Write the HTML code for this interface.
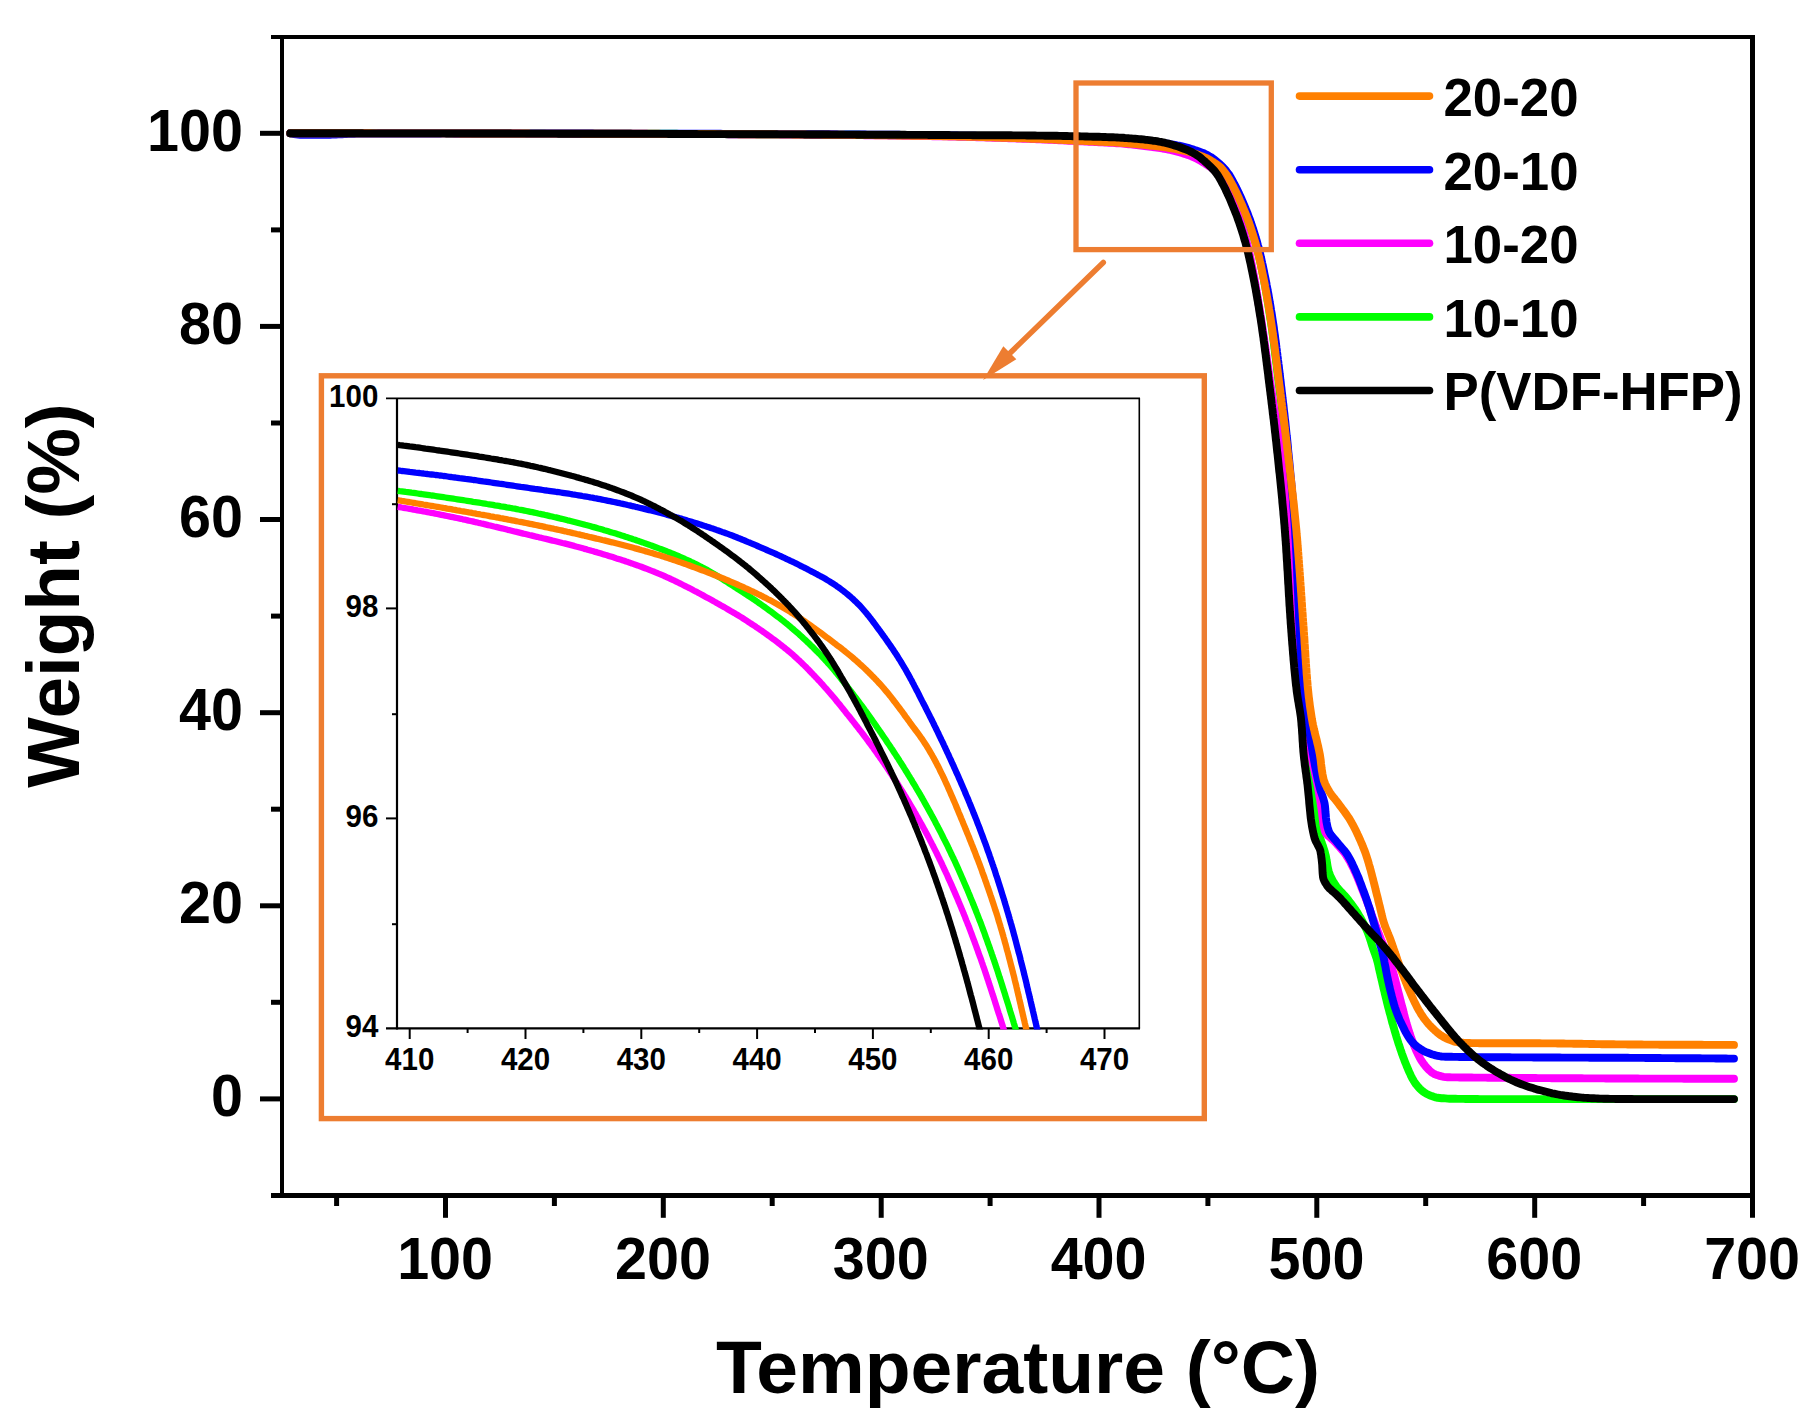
<!DOCTYPE html>
<html lang="en"><head><meta charset="utf-8"><title>TGA curves</title>
<style>html,body{margin:0;padding:0;background:#fff}svg{display:block}text{font-family:"Liberation Sans",sans-serif;font-weight:bold;fill:#000}</style></head><body>
<svg width="1820" height="1422" viewBox="0 0 1820 1422">
<rect width="1820" height="1422" fill="#fff"/>
<g fill="none" stroke-width="7.9" stroke-linecap="round" stroke-linejoin="round">
<path stroke="#00FF00" d="M290.2 133.3L292.2 133.3L294.2 133.3L296.2 133.3L298.2 133.3L300.2 133.3L302.2 133.3L304.2 133.3L306.2 133.3L308.2 133.3L310.2 133.3L312.2 133.3L314.2 133.3L316.2 133.3L318.2 133.3L320.2 133.3L322.2 133.3L324.2 133.3L326.2 133.3L328.2 133.3L330.2 133.3L332.2 133.3L334.2 133.3L336.2 133.3L338.3 133.3L340.3 133.3L342.3 133.3L344.3 133.3L346.3 133.3L348.3 133.3L350.3 133.3L352.3 133.3L354.3 133.3L356.3 133.3L358.3 133.3L360.3 133.3L362.3 133.3L364.3 133.3L366.3 133.3L368.3 133.3L370.3 133.3L372.3 133.3L374.3 133.3L376.3 133.4L378.3 133.4L380.3 133.4L382.3 133.4L384.3 133.4L386.3 133.4L388.3 133.4L390.3 133.4L392.3 133.4L394.3 133.4L396.3 133.4L398.3 133.4L400.3 133.4L402.3 133.4L404.3 133.4L406.3 133.4L408.3 133.4L410.4 133.4L412.4 133.4L414.4 133.4L416.4 133.4L418.4 133.4L420.4 133.4L422.4 133.4L424.4 133.4L426.4 133.4L428.4 133.4L430.4 133.4L432.4 133.4L434.4 133.4L436.4 133.4L438.4 133.4L440.4 133.4L442.4 133.4L444.4 133.4L446.4 133.4L448.4 133.4L450.4 133.4L452.4 133.4L454.4 133.4L456.4 133.4L458.4 133.4L460.4 133.4L462.4 133.4L464.4 133.4L466.4 133.4L468.4 133.4L470.4 133.4L472.4 133.5L474.4 133.5L476.4 133.5L478.4 133.5L480.4 133.5L482.4 133.5L484.5 133.5L486.5 133.5L488.5 133.5L490.5 133.5L492.5 133.5L494.5 133.5L496.5 133.5L498.5 133.5L500.5 133.5L502.5 133.5L504.5 133.5L506.5 133.5L508.5 133.5L510.5 133.5L512.5 133.5L514.5 133.5L516.5 133.5L518.5 133.5L520.5 133.5L522.5 133.5L524.5 133.5L526.5 133.5L528.5 133.5L530.5 133.5L532.5 133.5L534.5 133.5L536.5 133.5L538.5 133.5L540.5 133.5L542.5 133.5L544.5 133.5L546.5 133.6L548.5 133.6L550.5 133.6L552.5 133.6L554.5 133.6L556.6 133.6L558.6 133.6L560.6 133.6L562.6 133.6L564.6 133.6L566.6 133.6L568.6 133.6L570.6 133.6L572.6 133.6L574.6 133.6L576.6 133.6L578.6 133.6L580.6 133.6L582.6 133.6L584.6 133.6L586.6 133.6L588.6 133.6L590.6 133.6L592.6 133.6L594.6 133.6L596.6 133.6L598.6 133.7L600.6 133.7L602.6 133.7L604.6 133.7L606.6 133.7L608.6 133.7L610.6 133.7L612.6 133.7L614.6 133.7L616.6 133.7L618.6 133.7L620.6 133.7L622.6 133.7L624.6 133.7L626.6 133.7L628.7 133.7L630.7 133.7L632.7 133.7L634.7 133.7L636.7 133.7L638.7 133.7L640.7 133.8L642.7 133.8L644.7 133.8L646.7 133.8L648.7 133.8L650.7 133.8L652.7 133.8L654.7 133.8L656.7 133.8L658.7 133.8L660.7 133.8L662.7 133.8L664.7 133.8L666.7 133.8L668.7 133.8L670.7 133.8L672.7 133.8L674.7 133.8L676.7 133.8L678.7 133.9L680.7 133.9L682.7 133.9L684.7 133.9L686.7 133.9L688.7 133.9L690.7 133.9L692.7 133.9L694.7 133.9L696.7 133.9L698.7 133.9L700.7 133.9L702.8 133.9L704.8 133.9L706.8 133.9L708.8 134.0L710.8 134.0L712.8 134.0L714.8 134.0L716.8 134.0L718.8 134.0L720.8 134.0L722.8 134.0L724.8 134.0L726.8 134.0L728.8 134.0L730.8 134.0L732.8 134.1L734.8 134.1L736.8 134.1L738.8 134.1L740.8 134.1L742.8 134.1L744.8 134.1L746.8 134.1L748.8 134.1L750.8 134.1L752.8 134.1L754.8 134.1L756.8 134.2L758.8 134.2L760.8 134.2L762.8 134.2L764.8 134.2L766.8 134.2L768.8 134.2L770.8 134.2L772.8 134.2L774.9 134.2L776.9 134.3L778.9 134.3L780.9 134.3L782.9 134.3L784.9 134.3L786.9 134.3L788.9 134.3L790.9 134.3L792.9 134.3L794.9 134.4L796.9 134.4L798.9 134.4L800.9 134.4L802.9 134.4L804.9 134.4L806.9 134.4L808.9 134.4L810.9 134.5L812.9 134.5L814.9 134.5L816.9 134.5L818.9 134.5L820.9 134.5L822.9 134.5L824.9 134.6L826.9 134.6L828.9 134.6L830.9 134.6L832.9 134.6L834.9 134.6L836.9 134.6L838.9 134.7L840.9 134.7L842.9 134.7L844.9 134.7L846.9 134.7L849.0 134.7L851.0 134.8L853.0 134.8L855.0 134.8L857.0 134.8L859.0 134.8L861.0 134.9L863.0 134.9L865.0 134.9L867.0 134.9L869.0 134.9L871.0 135.0L873.0 135.0L875.0 135.0L877.0 135.0L879.0 135.0L881.0 135.1L883.0 135.1L885.0 135.1L887.0 135.1L889.0 135.2L891.0 135.2L893.0 135.2L895.0 135.2L897.0 135.2L899.0 135.3L901.0 135.3L903.0 135.3L905.0 135.4L907.0 135.4L909.0 135.4L911.0 135.4L913.0 135.5L915.0 135.5L917.0 135.5L919.0 135.5L921.0 135.6L923.0 135.6L925.1 135.6L927.1 135.7L929.1 135.7L931.1 135.7L933.1 135.7L935.1 135.8L937.1 135.8L939.1 135.8L941.1 135.9L943.1 135.9L945.1 135.9L947.1 136.0L949.1 136.0L951.1 136.0L953.1 136.1L955.1 136.1L957.1 136.2L959.1 136.2L961.1 136.2L963.1 136.3L965.1 136.3L967.1 136.4L969.1 136.4L971.1 136.5L973.1 136.5L975.1 136.6L977.1 136.6L979.1 136.7L981.1 136.7L983.1 136.8L985.1 136.8L987.1 136.9L989.1 136.9L991.1 137.0L993.1 137.0L995.1 137.1L997.1 137.1L999.1 137.2L1001.1 137.2L1003.1 137.3L1005.1 137.4L1007.1 137.4L1009.1 137.5L1011.1 137.5L1013.2 137.6L1015.2 137.7L1017.2 137.7L1019.2 137.8L1021.2 137.8L1023.2 137.9L1025.2 138.0L1027.2 138.0L1029.2 138.1L1031.2 138.1L1033.2 138.2L1035.2 138.3L1037.2 138.3L1039.2 138.4L1041.2 138.5L1043.2 138.6L1045.2 138.6L1047.2 138.7L1049.2 138.8L1051.2 138.9L1053.2 138.9L1055.2 139.0L1057.2 139.1L1059.2 139.2L1061.2 139.3L1063.2 139.4L1065.2 139.4L1067.2 139.5L1069.2 139.6L1071.2 139.7L1073.2 139.8L1075.2 139.9L1077.2 140.0L1079.2 140.1L1081.2 140.1L1083.2 140.2L1085.2 140.3L1087.2 140.4L1089.2 140.5L1091.2 140.6L1093.2 140.7L1095.2 140.7L1097.2 140.8L1099.2 140.9L1101.2 141.0L1103.2 141.1L1105.2 141.1L1107.2 141.2L1109.2 141.3L1111.2 141.4L1113.2 141.5L1115.2 141.6L1117.2 141.7L1119.2 141.8L1121.2 142.0L1123.2 142.1L1125.2 142.2L1127.2 142.4L1129.2 142.5L1131.2 142.7L1133.2 142.8L1135.2 143.0L1137.2 143.2L1139.2 143.3L1141.2 143.5L1143.2 143.7L1145.2 143.9L1147.2 144.1L1149.1 144.3L1151.1 144.6L1153.1 144.8L1155.1 145.1L1157.1 145.4L1159.1 145.7L1161.1 146.0L1163.0 146.3L1165.0 146.6L1167.0 147.0L1168.9 147.3L1170.9 147.7L1172.9 148.1L1174.8 148.6L1176.8 149.1L1178.7 149.6L1180.6 150.2L1182.5 150.8L1184.4 151.4L1186.3 152.1L1188.2 152.7L1190.1 153.4L1192.0 154.1L1193.8 154.9L1195.6 155.7L1197.4 156.6L1199.2 157.5L1201.0 158.5L1202.7 159.5L1204.4 160.6L1206.0 161.7L1207.7 162.8L1209.3 164.0L1211.0 165.1L1212.6 166.3L1214.2 167.5L1215.8 168.8L1217.3 170.1L1218.8 171.4L1220.2 172.9L1221.5 174.3L1222.9 175.8L1224.1 177.4L1225.2 179.0L1226.3 180.7L1227.5 182.3L1228.6 184.0L1229.6 185.7L1230.7 187.4L1231.8 189.1L1232.8 190.8L1233.8 192.6L1234.8 194.3L1235.8 196.1L1236.8 197.9L1237.7 199.6L1238.6 201.4L1239.6 203.2L1240.5 205.0L1241.4 206.8L1242.2 208.6L1243.1 210.4L1243.9 212.2L1244.8 214.0L1245.6 215.8L1246.4 217.7L1247.1 219.5L1247.9 221.4L1248.6 223.3L1249.4 225.1L1250.1 227.0L1250.7 228.9L1251.4 230.8L1252.1 232.7L1252.7 234.6L1253.4 236.5L1254.0 238.4L1254.6 240.3L1255.2 242.2L1255.8 244.1L1256.3 246.1L1256.9 248.0L1257.4 249.9L1257.9 251.9L1258.4 253.8L1258.8 255.7L1259.3 257.7L1259.7 259.6L1260.2 261.6L1260.6 263.5L1261.0 265.5L1261.4 267.4L1261.8 269.4L1262.3 271.4L1262.6 273.3L1263.0 275.3L1263.4 277.3L1263.8 279.2L1264.2 281.2L1264.5 283.2L1264.9 285.1L1265.3 287.1L1265.6 289.1L1266.0 291.1L1266.3 293.0L1266.6 295.0L1267.0 297.0L1267.3 299.0L1267.6 301.0L1268.0 302.9L1268.3 304.9L1268.6 306.9L1268.9 308.9L1269.2 310.9L1269.5 312.8L1269.8 314.8L1270.1 316.8L1270.4 318.8L1270.7 320.7L1271.0 322.7L1271.3 324.7L1271.6 326.7L1271.9 328.7L1272.2 330.7L1272.4 332.6L1272.7 334.6L1273.0 336.6L1273.2 338.6L1273.5 340.6L1273.8 342.6L1274.0 344.6L1274.3 346.5L1274.5 348.5L1274.8 350.5L1275.0 352.5L1275.2 354.5L1275.5 356.5L1275.7 358.5L1276.0 360.5L1276.2 362.4L1276.5 364.4L1276.7 366.4L1276.9 368.4L1277.2 370.4L1277.4 372.4L1277.7 374.4L1277.9 376.4L1278.1 378.4L1278.4 380.3L1278.6 382.3L1278.9 384.3L1279.1 386.3L1279.4 388.3L1279.6 390.3L1279.9 392.3L1280.1 394.3L1280.4 396.2L1280.6 398.2L1280.9 400.2L1281.1 402.2L1281.4 404.2L1281.7 406.2L1281.9 408.2L1282.2 410.2L1282.4 412.1L1282.7 414.1L1282.9 416.1L1283.2 418.1L1283.4 420.1L1283.7 422.1L1283.9 424.1L1284.1 426.1L1284.4 428.0L1284.6 430.0L1284.9 432.0L1285.1 434.0L1285.3 436.0L1285.6 438.0L1285.8 440.0L1286.0 442.0L1286.2 444.0L1286.4 445.9L1286.7 447.9L1286.9 449.9L1287.1 451.9L1287.3 453.9L1287.5 455.9L1287.7 457.9L1287.9 459.9L1288.1 461.9L1288.3 463.9L1288.5 465.9L1288.7 467.9L1289.0 469.9L1289.2 471.8L1289.4 473.8L1289.6 475.8L1289.8 477.8L1290.0 479.8L1290.2 481.8L1290.4 483.8L1290.6 485.8L1290.8 487.8L1291.0 489.8L1291.2 491.8L1291.4 493.8L1291.6 495.8L1291.8 497.8L1291.9 499.8L1292.1 501.8L1292.3 503.8L1292.5 505.8L1292.6 507.7L1292.8 509.7L1292.9 511.7L1293.1 513.7L1293.2 515.7L1293.4 517.7L1293.5 519.7L1293.6 521.7L1293.7 523.7L1293.9 525.7L1294.0 527.7L1294.1 529.7L1294.2 531.7L1294.2 533.7L1294.3 535.7L1294.4 537.7L1294.5 539.7L1294.6 541.7L1294.6 543.7L1294.7 545.7L1294.8 547.7L1294.8 549.7L1294.9 551.7L1295.0 553.7L1295.0 555.7L1295.1 557.7L1295.1 559.7L1295.2 561.7L1295.2 563.7L1295.3 565.7L1295.3 567.7L1295.4 569.7L1295.4 571.7L1295.5 573.7L1295.5 575.7L1295.6 577.8L1295.6 579.8L1295.6 581.8L1295.7 583.8L1295.7 585.8L1295.8 587.8L1295.8 589.8L1295.9 591.8L1295.9 593.8L1296.0 595.8L1296.0 597.8L1296.1 599.8L1296.1 601.8L1296.2 603.8L1296.2 605.8L1296.3 607.8L1296.4 609.8L1296.4 611.8L1296.5 613.8L1296.5 615.8L1296.6 617.8L1296.7 619.8L1296.8 621.8L1296.8 623.8L1296.9 625.8L1297.0 627.8L1297.1 629.8L1297.2 631.8L1297.3 633.8L1297.4 635.8L1297.5 637.8L1297.6 639.8L1297.8 641.8L1297.9 643.8L1298.0 645.8L1298.2 647.8L1298.3 649.8L1298.5 651.8L1298.6 653.8L1298.8 655.8L1298.9 657.8L1299.1 659.8L1299.2 661.8L1299.4 663.8L1299.6 665.8L1299.7 667.8L1299.9 669.8L1300.0 671.8L1300.2 673.8L1300.4 675.8L1300.5 677.8L1300.7 679.7L1300.9 681.7L1301.0 683.7L1301.2 685.7L1301.4 687.7L1301.6 689.7L1301.7 691.7L1301.9 693.7L1302.1 695.7L1302.3 697.7L1302.5 699.7L1302.7 701.7L1302.9 703.7L1303.1 705.7L1303.3 707.7L1303.5 709.7L1303.7 711.7L1303.9 713.6L1304.1 715.6L1304.3 717.6L1304.5 719.6L1304.7 721.6L1304.9 723.6L1305.1 725.6L1305.2 727.6L1305.4 729.6L1305.6 731.6L1305.8 733.6L1306.0 735.6L1306.2 737.6L1306.4 739.6L1306.6 741.6L1306.9 743.5L1307.1 745.5L1307.3 747.5L1307.5 749.5L1307.7 751.5L1308.0 753.5L1308.2 755.5L1308.4 757.5L1308.7 759.5L1309.0 761.4L1309.2 763.4L1309.5 765.4L1309.8 767.4L1310.0 769.4L1310.3 771.4L1310.6 773.3L1310.9 775.3L1311.2 777.3L1311.5 779.3L1311.8 781.3L1312.0 783.3L1312.3 785.2L1312.6 787.2L1312.9 789.2L1313.2 791.2L1313.4 793.2L1313.7 795.2L1313.9 797.1L1314.2 799.1L1314.4 801.1L1314.6 803.1L1314.9 805.1L1315.1 807.1L1315.3 809.1L1315.5 811.1L1315.7 813.1L1315.9 815.1L1316.2 817.1L1316.4 819.1L1316.7 821.1L1316.9 823.1L1317.2 825.0L1317.5 827.0L1317.9 829.0L1318.2 830.9L1318.7 832.8L1319.2 834.8L1319.7 836.7L1320.4 838.6L1321.0 840.5L1321.6 842.4L1322.3 844.3L1323.0 846.2L1323.6 848.1L1324.2 850.0L1324.8 852.0L1325.3 853.9L1325.8 855.8L1326.2 857.8L1326.5 859.8L1326.9 861.8L1327.2 863.8L1327.5 865.8L1327.9 867.7L1328.3 869.7L1328.8 871.6L1329.4 873.5L1330.1 875.3L1330.9 877.2L1331.9 879.0L1332.8 880.8L1333.9 882.5L1334.9 884.2L1336.0 885.9L1337.2 887.5L1338.4 889.0L1339.8 890.5L1341.1 891.9L1342.6 893.4L1344.0 894.9L1345.3 896.3L1346.7 897.9L1347.9 899.4L1349.1 901.0L1350.3 902.6L1351.5 904.2L1352.7 905.8L1353.9 907.5L1355.0 909.1L1356.2 910.8L1357.3 912.5L1358.3 914.2L1359.3 915.9L1360.3 917.6L1361.3 919.3L1362.3 921.1L1363.2 922.9L1364.2 924.7L1365.0 926.5L1365.9 928.3L1366.7 930.1L1367.5 932.0L1368.2 933.8L1368.9 935.7L1369.6 937.6L1370.2 939.5L1370.8 941.4L1371.4 943.3L1372.0 945.2L1372.6 947.1L1373.2 949.0L1373.9 950.9L1374.6 952.8L1375.3 954.7L1375.9 956.6L1376.6 958.5L1377.1 960.4L1377.6 962.3L1378.1 964.3L1378.5 966.2L1378.9 968.2L1379.4 970.2L1379.8 972.1L1380.3 974.1L1380.7 976.0L1381.2 978.0L1381.6 979.9L1382.1 981.9L1382.5 983.8L1383.0 985.8L1383.4 987.7L1383.9 989.7L1384.4 991.6L1384.8 993.6L1385.3 995.5L1385.8 997.5L1386.3 999.4L1386.7 1001.3L1387.2 1003.3L1387.7 1005.2L1388.2 1007.2L1388.7 1009.1L1389.2 1011.0L1389.7 1013.0L1390.3 1014.9L1390.8 1016.9L1391.3 1018.8L1391.8 1020.7L1392.3 1022.7L1392.9 1024.6L1393.4 1026.5L1394.0 1028.4L1394.5 1030.4L1395.1 1032.3L1395.7 1034.2L1396.2 1036.1L1396.8 1038.0L1397.4 1039.9L1398.0 1041.9L1398.6 1043.8L1399.3 1045.7L1399.9 1047.6L1400.5 1049.5L1401.2 1051.4L1401.8 1053.3L1402.5 1055.2L1403.2 1057.1L1403.9 1058.9L1404.6 1060.8L1405.3 1062.7L1406.1 1064.5L1406.8 1066.4L1407.6 1068.2L1408.4 1070.1L1409.2 1072.0L1410.1 1073.8L1410.9 1075.7L1411.8 1077.5L1412.8 1079.3L1413.8 1081.0L1414.8 1082.6L1415.9 1084.2L1417.2 1085.7L1418.5 1087.3L1419.9 1088.8L1421.5 1090.2L1423.0 1091.5L1424.6 1092.7L1426.3 1093.7L1428.0 1094.5L1429.8 1095.3L1431.7 1096.1L1433.7 1096.8L1435.7 1097.4L1437.6 1097.8L1439.6 1098.0L1441.6 1098.2L1443.5 1098.3L1445.5 1098.4L1447.5 1098.6L1449.6 1098.7L1451.6 1098.7L1453.6 1098.8L1455.6 1098.8L1457.6 1098.9L1459.6 1098.9L1461.6 1098.9L1463.6 1098.9L1465.6 1099.0L1467.6 1099.0L1469.6 1099.0L1471.6 1099.0L1473.6 1099.0L1475.6 1099.0L1477.6 1099.0L1479.6 1099.1L1481.7 1099.1L1483.7 1099.1L1485.7 1099.1L1487.7 1099.1L1489.7 1099.1L1491.7 1099.1L1493.7 1099.1L1495.7 1099.1L1497.7 1099.1L1499.7 1099.1L1501.7 1099.1L1503.7 1099.1L1505.7 1099.1L1507.7 1099.1L1509.7 1099.1L1511.7 1099.1L1513.7 1099.1L1515.7 1099.1L1517.7 1099.1L1519.7 1099.1L1521.7 1099.1L1523.7 1099.1L1525.7 1099.1L1527.7 1099.1L1529.7 1099.1L1531.7 1099.1L1533.7 1099.1L1535.7 1099.1L1537.7 1099.1L1539.7 1099.1L1541.7 1099.1L1543.7 1099.1L1545.7 1099.1L1547.7 1099.1L1549.7 1099.1L1551.7 1099.1L1553.8 1099.1L1555.8 1099.1L1557.8 1099.1L1559.8 1099.1L1561.8 1099.1L1563.8 1099.1L1565.8 1099.1L1567.8 1099.1L1569.8 1099.1L1571.8 1099.1L1573.8 1099.1L1575.8 1099.1L1577.8 1099.1L1579.8 1099.1L1581.8 1099.1L1583.8 1099.1L1585.8 1099.1L1587.8 1099.1L1589.8 1099.1L1591.8 1099.1L1593.8 1099.1L1595.8 1099.1L1597.8 1099.1L1599.8 1099.1L1601.8 1099.1L1603.8 1099.1L1605.8 1099.1L1607.8 1099.1L1609.8 1099.1L1611.8 1099.1L1613.8 1099.1L1615.8 1099.1L1617.8 1099.1L1619.8 1099.1L1621.8 1099.1L1623.8 1099.1L1625.9 1099.1L1627.9 1099.1L1629.9 1099.1L1631.9 1099.1L1633.9 1099.1L1635.9 1099.1L1637.9 1099.1L1639.9 1099.1L1641.9 1099.1L1643.9 1099.1L1645.9 1099.1L1647.9 1099.1L1649.9 1099.1L1651.9 1099.1L1653.9 1099.1L1655.9 1099.1L1657.9 1099.1L1659.9 1099.1L1661.9 1099.1L1663.9 1099.1L1665.9 1099.1L1667.9 1099.1L1669.9 1099.1L1671.9 1099.1L1673.9 1099.1L1675.9 1099.1L1677.9 1099.1L1679.9 1099.1L1681.9 1099.1L1683.9 1099.1L1685.9 1099.1L1687.9 1099.1L1689.9 1099.1L1691.9 1099.1L1693.9 1099.1L1695.9 1099.1L1698.0 1099.1L1700.0 1099.1L1702.0 1099.1L1704.0 1099.1L1706.0 1099.1L1708.0 1099.1L1710.0 1099.1L1712.0 1099.1L1714.0 1099.1L1716.0 1099.1L1718.0 1099.1L1720.0 1099.1L1722.0 1099.1L1724.0 1099.1L1726.0 1099.1L1728.0 1099.1L1730.0 1099.1L1732.0 1099.1L1734.0 1099.1"/>
<path stroke="#FF00FF" d="M290.2 133.3L292.2 133.3L294.2 133.3L296.2 133.3L298.2 133.3L300.2 133.3L302.2 133.3L304.2 133.3L306.2 133.3L308.2 133.3L310.2 133.3L312.2 133.3L314.2 133.3L316.2 133.3L318.2 133.3L320.2 133.3L322.2 133.3L324.2 133.3L326.2 133.3L328.2 133.3L330.2 133.3L332.2 133.3L334.2 133.3L336.2 133.3L338.2 133.3L340.2 133.3L342.2 133.3L344.2 133.3L346.2 133.3L348.2 133.3L350.2 133.3L352.2 133.3L354.2 133.3L356.2 133.3L358.2 133.3L360.2 133.3L362.3 133.3L364.3 133.3L366.3 133.3L368.3 133.4L370.3 133.4L372.3 133.4L374.3 133.4L376.3 133.4L378.3 133.4L380.3 133.4L382.3 133.4L384.3 133.4L386.3 133.4L388.3 133.4L390.3 133.4L392.3 133.4L394.3 133.4L396.3 133.4L398.3 133.4L400.3 133.4L402.3 133.4L404.3 133.4L406.3 133.4L408.3 133.4L410.3 133.4L412.3 133.4L414.3 133.4L416.3 133.4L418.3 133.4L420.3 133.4L422.3 133.4L424.3 133.4L426.3 133.4L428.3 133.4L430.3 133.4L432.3 133.4L434.3 133.4L436.3 133.4L438.3 133.4L440.3 133.4L442.3 133.4L444.3 133.4L446.3 133.4L448.3 133.4L450.3 133.4L452.3 133.4L454.3 133.5L456.3 133.5L458.3 133.5L460.3 133.5L462.3 133.5L464.3 133.5L466.3 133.5L468.3 133.5L470.4 133.5L472.4 133.5L474.4 133.5L476.4 133.5L478.4 133.5L480.4 133.5L482.4 133.5L484.4 133.5L486.4 133.5L488.4 133.5L490.4 133.5L492.4 133.5L494.4 133.5L496.4 133.5L498.4 133.5L500.4 133.5L502.4 133.5L504.4 133.5L506.4 133.5L508.4 133.5L510.4 133.5L512.4 133.5L514.4 133.5L516.4 133.5L518.4 133.5L520.4 133.5L522.4 133.6L524.4 133.6L526.4 133.6L528.4 133.6L530.4 133.6L532.4 133.6L534.4 133.6L536.4 133.6L538.4 133.6L540.4 133.6L542.4 133.6L544.4 133.6L546.4 133.6L548.4 133.6L550.4 133.6L552.4 133.6L554.4 133.6L556.4 133.6L558.4 133.6L560.4 133.6L562.4 133.6L564.4 133.6L566.4 133.6L568.4 133.6L570.4 133.6L572.4 133.7L574.4 133.7L576.4 133.7L578.5 133.7L580.5 133.7L582.5 133.7L584.5 133.7L586.5 133.7L588.5 133.7L590.5 133.7L592.5 133.7L594.5 133.7L596.5 133.7L598.5 133.7L600.5 133.7L602.5 133.7L604.5 133.7L606.5 133.7L608.5 133.7L610.5 133.7L612.5 133.7L614.5 133.8L616.5 133.8L618.5 133.8L620.5 133.8L622.5 133.8L624.5 133.8L626.5 133.8L628.5 133.8L630.5 133.8L632.5 133.8L634.5 133.8L636.5 133.8L638.5 133.8L640.5 133.8L642.5 133.8L644.5 133.8L646.5 133.8L648.5 133.9L650.5 133.9L652.5 133.9L654.5 133.9L656.5 133.9L658.5 133.9L660.5 133.9L662.5 133.9L664.5 133.9L666.5 133.9L668.5 133.9L670.5 133.9L672.5 133.9L674.5 133.9L676.5 133.9L678.5 133.9L680.5 134.0L682.5 134.0L684.5 134.0L686.6 134.0L688.6 134.0L690.6 134.0L692.6 134.0L694.6 134.0L696.6 134.0L698.6 134.0L700.6 134.0L702.6 134.0L704.6 134.1L706.6 134.1L708.6 134.1L710.6 134.1L712.6 134.1L714.6 134.1L716.6 134.1L718.6 134.1L720.6 134.1L722.6 134.1L724.6 134.1L726.6 134.1L728.6 134.2L730.6 134.2L732.6 134.2L734.6 134.2L736.6 134.2L738.6 134.2L740.6 134.2L742.6 134.2L744.6 134.2L746.6 134.3L748.6 134.3L750.6 134.3L752.6 134.3L754.6 134.3L756.6 134.3L758.6 134.3L760.6 134.3L762.6 134.3L764.6 134.4L766.6 134.4L768.6 134.4L770.6 134.4L772.6 134.4L774.6 134.4L776.6 134.4L778.6 134.4L780.6 134.5L782.6 134.5L784.6 134.5L786.6 134.5L788.6 134.5L790.6 134.5L792.6 134.5L794.6 134.5L796.7 134.6L798.7 134.6L800.7 134.6L802.7 134.6L804.7 134.6L806.7 134.6L808.7 134.6L810.7 134.7L812.7 134.7L814.7 134.7L816.7 134.7L818.7 134.7L820.7 134.7L822.7 134.7L824.7 134.8L826.7 134.8L828.7 134.8L830.7 134.8L832.7 134.8L834.7 134.9L836.7 134.9L838.7 134.9L840.7 134.9L842.7 134.9L844.7 134.9L846.7 135.0L848.7 135.0L850.7 135.0L852.7 135.0L854.7 135.1L856.7 135.1L858.7 135.1L860.7 135.1L862.7 135.1L864.7 135.2L866.7 135.2L868.7 135.2L870.7 135.2L872.7 135.3L874.7 135.3L876.7 135.3L878.7 135.3L880.7 135.4L882.7 135.4L884.7 135.4L886.7 135.4L888.7 135.5L890.7 135.5L892.7 135.5L894.7 135.6L896.7 135.6L898.7 135.6L900.7 135.6L902.7 135.7L904.7 135.7L906.7 135.7L908.7 135.8L910.8 135.8L912.8 135.8L914.8 135.9L916.8 135.9L918.8 135.9L920.8 136.0L922.8 136.0L924.8 136.0L926.8 136.1L928.8 136.1L930.8 136.1L932.8 136.2L934.8 136.2L936.8 136.2L938.8 136.3L940.8 136.3L942.8 136.3L944.8 136.4L946.8 136.4L948.8 136.5L950.8 136.5L952.8 136.6L954.8 136.6L956.8 136.6L958.8 136.7L960.8 136.7L962.8 136.8L964.8 136.8L966.8 136.9L968.8 136.9L970.8 137.0L972.8 137.1L974.8 137.1L976.8 137.2L978.8 137.2L980.8 137.3L982.8 137.3L984.8 137.4L986.8 137.5L988.8 137.5L990.8 137.6L992.8 137.7L994.8 137.7L996.8 137.8L998.8 137.8L1000.8 137.9L1002.8 138.0L1004.8 138.0L1006.8 138.1L1008.8 138.2L1010.8 138.3L1012.8 138.3L1014.8 138.4L1016.8 138.5L1018.8 138.5L1020.8 138.6L1022.8 138.7L1024.8 138.8L1026.8 138.8L1028.8 138.9L1030.8 139.0L1032.8 139.1L1034.8 139.1L1036.8 139.2L1038.8 139.3L1040.8 139.4L1042.8 139.5L1044.8 139.5L1046.8 139.6L1048.8 139.7L1050.8 139.8L1052.8 139.9L1054.8 140.0L1056.8 140.1L1058.8 140.2L1060.8 140.3L1062.8 140.4L1064.8 140.5L1066.8 140.6L1068.8 140.7L1070.8 140.8L1072.8 140.9L1074.8 141.0L1076.8 141.1L1078.8 141.2L1080.8 141.3L1082.8 141.4L1084.8 141.5L1086.8 141.6L1088.8 141.7L1090.8 141.8L1092.8 141.9L1094.8 142.0L1096.8 142.1L1098.8 142.2L1100.8 142.3L1102.8 142.4L1104.8 142.5L1106.8 142.6L1108.8 142.7L1110.8 142.8L1112.8 142.9L1114.8 143.0L1116.8 143.2L1118.8 143.3L1120.8 143.4L1122.8 143.6L1124.8 143.8L1126.8 144.0L1128.8 144.2L1130.7 144.4L1132.7 144.6L1134.7 144.9L1136.7 145.1L1138.7 145.3L1140.7 145.6L1142.7 145.8L1144.7 146.0L1146.7 146.3L1148.6 146.5L1150.6 146.7L1152.6 147.0L1154.6 147.3L1156.6 147.5L1158.6 147.8L1160.5 148.1L1162.5 148.5L1164.5 148.8L1166.5 149.2L1168.4 149.6L1170.4 150.0L1172.3 150.5L1174.3 151.0L1176.2 151.5L1178.1 152.0L1180.1 152.5L1182.0 153.1L1183.9 153.7L1185.8 154.3L1187.7 154.9L1189.6 155.6L1191.5 156.3L1193.3 157.1L1195.1 157.9L1196.9 158.8L1198.7 159.8L1200.4 160.7L1202.2 161.8L1203.9 162.8L1205.6 163.9L1207.2 165.0L1208.9 166.1L1210.6 167.2L1212.2 168.4L1213.7 169.6L1215.2 171.0L1216.6 172.4L1218.0 173.9L1219.3 175.4L1220.4 177.1L1221.4 178.7L1222.4 180.4L1223.4 182.2L1224.4 183.9L1225.3 185.7L1226.2 187.5L1227.1 189.3L1228.0 191.1L1228.8 192.9L1229.6 194.8L1230.4 196.6L1231.2 198.5L1232.0 200.3L1232.8 202.2L1233.6 204.0L1234.3 205.9L1235.1 207.8L1235.8 209.6L1236.6 211.5L1237.3 213.4L1238.0 215.2L1238.7 217.1L1239.4 219.0L1240.1 220.9L1240.7 222.8L1241.4 224.7L1242.0 226.6L1242.6 228.5L1243.2 230.4L1243.8 232.3L1244.4 234.2L1244.9 236.1L1245.5 238.1L1246.0 240.0L1246.6 241.9L1247.1 243.9L1247.6 245.8L1248.1 247.7L1248.6 249.7L1249.0 251.6L1249.5 253.6L1249.9 255.5L1250.3 257.5L1250.7 259.4L1251.1 261.4L1251.5 263.4L1251.9 265.3L1252.3 267.3L1252.7 269.2L1253.1 271.2L1253.4 273.2L1253.8 275.1L1254.2 277.1L1254.5 279.1L1254.9 281.1L1255.2 283.0L1255.6 285.0L1255.9 287.0L1256.2 289.0L1256.6 290.9L1256.9 292.9L1257.2 294.9L1257.6 296.9L1257.9 298.8L1258.2 300.8L1258.5 302.8L1258.8 304.8L1259.2 306.7L1259.5 308.7L1259.8 310.7L1260.1 312.7L1260.4 314.7L1260.7 316.6L1261.1 318.6L1261.4 320.6L1261.7 322.6L1262.0 324.5L1262.3 326.5L1262.6 328.5L1262.9 330.5L1263.2 332.5L1263.5 334.4L1263.8 336.4L1264.1 338.4L1264.3 340.4L1264.6 342.4L1264.9 344.3L1265.2 346.3L1265.5 348.3L1265.7 350.3L1266.0 352.3L1266.3 354.3L1266.6 356.2L1266.9 358.2L1267.1 360.2L1267.4 362.2L1267.7 364.2L1268.0 366.2L1268.2 368.1L1268.5 370.1L1268.8 372.1L1269.1 374.1L1269.4 376.1L1269.6 378.1L1269.9 380.0L1270.2 382.0L1270.5 384.0L1270.8 386.0L1271.1 388.0L1271.4 389.9L1271.7 391.9L1272.0 393.9L1272.3 395.9L1272.6 397.9L1272.9 399.8L1273.2 401.8L1273.5 403.8L1273.8 405.8L1274.1 407.8L1274.4 409.7L1274.7 411.7L1275.0 413.7L1275.3 415.7L1275.6 417.6L1275.9 419.6L1276.2 421.6L1276.5 423.6L1276.8 425.6L1277.1 427.5L1277.4 429.5L1277.7 431.5L1278.0 433.5L1278.3 435.5L1278.5 437.4L1278.8 439.4L1279.1 441.4L1279.4 443.4L1279.7 445.4L1279.9 447.4L1280.2 449.3L1280.5 451.3L1280.8 453.3L1281.0 455.3L1281.3 457.3L1281.6 459.3L1281.8 461.2L1282.1 463.2L1282.4 465.2L1282.6 467.2L1282.9 469.2L1283.2 471.2L1283.4 473.1L1283.7 475.1L1284.0 477.1L1284.2 479.1L1284.5 481.1L1284.8 483.1L1285.0 485.1L1285.3 487.0L1285.6 489.0L1285.8 491.0L1286.1 493.0L1286.3 495.0L1286.6 497.0L1286.8 499.0L1287.1 501.0L1287.3 502.9L1287.5 504.9L1287.8 506.9L1288.0 508.9L1288.2 510.9L1288.4 512.9L1288.6 514.9L1288.9 516.9L1289.1 518.9L1289.3 520.8L1289.5 522.8L1289.6 524.8L1289.8 526.8L1290.0 528.8L1290.2 530.8L1290.3 532.8L1290.5 534.8L1290.7 536.8L1290.8 538.8L1291.0 540.8L1291.1 542.8L1291.3 544.8L1291.4 546.8L1291.5 548.8L1291.7 550.8L1291.8 552.8L1291.9 554.7L1292.0 556.7L1292.2 558.7L1292.3 560.7L1292.4 562.7L1292.5 564.7L1292.6 566.7L1292.7 568.7L1292.9 570.7L1293.0 572.7L1293.1 574.7L1293.2 576.7L1293.3 578.7L1293.4 580.7L1293.5 582.7L1293.6 584.7L1293.7 586.7L1293.8 588.7L1293.9 590.7L1294.0 592.7L1294.2 594.7L1294.3 596.7L1294.4 598.7L1294.5 600.7L1294.6 602.7L1294.7 604.7L1294.8 606.7L1295.0 608.7L1295.1 610.7L1295.2 612.7L1295.3 614.7L1295.5 616.7L1295.6 618.7L1295.8 620.7L1295.9 622.7L1296.0 624.7L1296.2 626.7L1296.3 628.7L1296.5 630.7L1296.7 632.7L1296.8 634.7L1297.0 636.7L1297.2 638.7L1297.3 640.7L1297.5 642.7L1297.7 644.7L1297.9 646.7L1298.0 648.6L1298.2 650.6L1298.4 652.6L1298.6 654.6L1298.8 656.6L1299.0 658.6L1299.2 660.6L1299.4 662.6L1299.6 664.6L1299.8 666.6L1300.0 668.6L1300.2 670.6L1300.4 672.6L1300.6 674.5L1300.8 676.5L1301.1 678.5L1301.3 680.5L1301.5 682.5L1301.7 684.5L1301.9 686.5L1302.1 688.5L1302.4 690.5L1302.6 692.5L1302.8 694.4L1303.0 696.4L1303.3 698.4L1303.5 700.4L1303.8 702.4L1304.0 704.4L1304.2 706.4L1304.5 708.4L1304.7 710.3L1305.0 712.3L1305.3 714.3L1305.5 716.3L1305.8 718.3L1306.0 720.3L1306.3 722.3L1306.6 724.2L1306.8 726.2L1307.1 728.2L1307.4 730.2L1307.7 732.2L1307.9 734.2L1308.2 736.1L1308.5 738.1L1308.8 740.1L1309.1 742.1L1309.4 744.1L1309.7 746.0L1310.0 748.0L1310.4 750.0L1310.7 752.0L1311.0 753.9L1311.4 755.9L1311.7 757.9L1312.1 759.8L1312.5 761.8L1312.9 763.7L1313.4 765.7L1313.8 767.7L1314.2 769.6L1314.7 771.6L1315.1 773.5L1315.5 775.5L1316.0 777.4L1316.4 779.4L1316.8 781.4L1317.2 783.3L1317.6 785.3L1318.0 787.3L1318.3 789.2L1318.7 791.2L1319.0 793.2L1319.3 795.1L1319.6 797.1L1320.0 799.1L1320.3 801.1L1320.6 803.0L1320.9 805.0L1321.2 807.0L1321.5 809.0L1321.8 811.0L1322.1 813.0L1322.3 815.1L1322.6 817.2L1322.8 819.2L1323.1 821.3L1323.3 823.3L1323.6 825.3L1324.0 827.2L1324.4 829.1L1324.8 830.8L1325.5 832.5L1326.5 834.0L1327.8 835.5L1329.4 836.9L1331.0 838.3L1332.6 839.7L1334.1 841.1L1335.5 842.6L1336.9 844.1L1338.2 845.6L1339.6 847.1L1340.9 848.6L1342.2 850.1L1343.5 851.6L1344.7 853.2L1345.9 854.8L1346.9 856.5L1348.0 858.2L1349.0 859.9L1350.0 861.6L1350.9 863.4L1351.8 865.2L1352.7 867.0L1353.6 868.8L1354.4 870.7L1355.3 872.5L1356.1 874.3L1356.9 876.1L1357.7 878.0L1358.4 879.8L1359.2 881.7L1359.9 883.5L1360.7 885.4L1361.4 887.3L1362.1 889.1L1362.9 891.0L1363.6 892.9L1364.3 894.7L1365.1 896.6L1365.8 898.5L1366.5 900.3L1367.2 902.2L1367.9 904.1L1368.6 906.0L1369.3 907.8L1370.0 909.7L1370.6 911.6L1371.3 913.5L1371.9 915.4L1372.6 917.3L1373.3 919.2L1374.0 921.0L1374.7 922.9L1375.4 924.8L1376.1 926.7L1376.8 928.5L1377.5 930.4L1378.2 932.3L1378.9 934.1L1379.7 936.0L1380.4 937.9L1381.1 939.7L1381.9 941.6L1382.7 943.4L1383.5 945.3L1384.3 947.1L1385.1 948.9L1385.9 950.8L1386.6 952.6L1387.4 954.5L1388.1 956.3L1388.9 958.2L1389.5 960.1L1390.2 962.0L1390.8 963.9L1391.3 965.8L1391.9 967.7L1392.4 969.7L1393.0 971.6L1393.5 973.5L1394.0 975.4L1394.6 977.4L1395.1 979.3L1395.6 981.2L1396.1 983.2L1396.6 985.1L1397.1 987.1L1397.6 989.0L1398.1 990.9L1398.6 992.9L1399.1 994.8L1399.6 996.8L1400.1 998.7L1400.6 1000.6L1401.1 1002.6L1401.6 1004.5L1402.1 1006.4L1402.7 1008.4L1403.2 1010.3L1403.6 1012.3L1404.1 1014.2L1404.6 1016.1L1405.1 1018.1L1405.7 1020.0L1406.2 1021.9L1406.7 1023.9L1407.3 1025.8L1407.9 1027.7L1408.5 1029.6L1409.1 1031.5L1409.7 1033.4L1410.4 1035.3L1411.0 1037.3L1411.7 1039.2L1412.4 1041.0L1413.1 1042.9L1413.8 1044.8L1414.5 1046.7L1415.3 1048.5L1416.1 1050.3L1416.9 1052.1L1417.8 1053.9L1418.7 1055.7L1419.6 1057.5L1420.6 1059.3L1421.7 1061.0L1422.8 1062.7L1424.0 1064.3L1425.2 1065.8L1426.5 1067.3L1427.9 1068.9L1429.4 1070.4L1431.0 1071.8L1432.6 1073.0L1434.2 1074.0L1435.9 1074.7L1437.8 1075.3L1439.7 1075.9L1441.7 1076.4L1443.7 1076.8L1445.7 1077.1L1447.7 1077.3L1449.7 1077.3L1451.7 1077.4L1453.7 1077.4L1455.7 1077.4L1457.7 1077.4L1459.7 1077.5L1461.7 1077.5L1463.7 1077.5L1465.7 1077.5L1467.7 1077.5L1469.7 1077.5L1471.7 1077.5L1473.8 1077.6L1475.8 1077.6L1477.8 1077.6L1479.8 1077.6L1481.8 1077.6L1483.8 1077.6L1485.8 1077.6L1487.8 1077.7L1489.8 1077.7L1491.8 1077.7L1493.8 1077.7L1495.8 1077.7L1497.8 1077.7L1499.8 1077.8L1501.8 1077.8L1503.8 1077.8L1505.8 1077.8L1507.8 1077.8L1509.8 1077.8L1511.8 1077.9L1513.8 1077.9L1515.8 1077.9L1517.8 1077.9L1519.8 1077.9L1521.8 1077.9L1523.8 1077.9L1525.8 1078.0L1527.8 1078.0L1529.8 1078.0L1531.8 1078.0L1533.8 1078.0L1535.8 1078.0L1537.8 1078.1L1539.8 1078.1L1541.8 1078.1L1543.8 1078.1L1545.8 1078.1L1547.8 1078.1L1549.8 1078.1L1551.8 1078.2L1553.8 1078.2L1555.8 1078.2L1557.8 1078.2L1559.8 1078.2L1561.8 1078.2L1563.8 1078.2L1565.8 1078.2L1567.8 1078.3L1569.8 1078.3L1571.9 1078.3L1573.9 1078.3L1575.9 1078.3L1577.9 1078.3L1579.9 1078.3L1581.9 1078.3L1583.9 1078.4L1585.9 1078.4L1587.9 1078.4L1589.9 1078.4L1591.9 1078.4L1593.9 1078.4L1595.9 1078.4L1597.9 1078.4L1599.9 1078.4L1601.9 1078.4L1603.9 1078.4L1605.9 1078.5L1607.9 1078.5L1609.9 1078.5L1611.9 1078.5L1613.9 1078.5L1615.9 1078.5L1617.9 1078.5L1619.9 1078.5L1621.9 1078.5L1623.9 1078.5L1625.9 1078.5L1627.9 1078.5L1629.9 1078.5L1631.9 1078.5L1633.9 1078.5L1635.9 1078.5L1637.9 1078.5L1639.9 1078.6L1641.9 1078.6L1643.9 1078.6L1645.9 1078.6L1647.9 1078.6L1649.9 1078.6L1651.9 1078.6L1653.9 1078.6L1655.9 1078.6L1657.9 1078.6L1659.9 1078.6L1661.9 1078.6L1663.9 1078.6L1665.9 1078.6L1667.9 1078.6L1669.9 1078.6L1671.9 1078.6L1673.9 1078.6L1675.9 1078.6L1677.9 1078.6L1679.9 1078.6L1682.0 1078.6L1684.0 1078.7L1686.0 1078.7L1688.0 1078.7L1690.0 1078.7L1692.0 1078.7L1694.0 1078.7L1696.0 1078.7L1698.0 1078.7L1700.0 1078.7L1702.0 1078.7L1704.0 1078.7L1706.0 1078.7L1708.0 1078.7L1710.0 1078.7L1712.0 1078.7L1714.0 1078.7L1716.0 1078.7L1718.0 1078.7L1720.0 1078.7L1722.0 1078.7L1724.0 1078.7L1726.0 1078.7L1728.0 1078.7L1730.0 1078.7L1732.0 1078.7L1734.0 1078.7"/>
<path stroke="#0000FF" d="M290.2 133.3L292.2 133.7L294.1 134.1L296.1 134.4L298.1 134.6L300.1 134.7L302.1 134.7L304.1 134.7L306.1 134.7L308.1 134.7L310.1 134.7L312.1 134.7L314.1 134.7L316.1 134.7L318.1 134.7L320.1 134.7L322.1 134.7L324.1 134.7L326.1 134.7L328.1 134.7L330.1 134.7L332.1 134.6L334.1 134.6L336.1 134.5L338.1 134.4L340.2 134.3L342.2 134.2L344.2 134.1L346.2 134.0L348.2 133.9L350.2 133.8L352.2 133.7L354.2 133.7L356.2 133.6L358.2 133.6L360.2 133.6L362.2 133.6L364.2 133.6L366.2 133.6L368.2 133.6L370.2 133.6L372.2 133.6L374.2 133.6L376.2 133.6L378.2 133.5L380.2 133.5L382.2 133.5L384.2 133.5L386.2 133.5L388.2 133.5L390.2 133.5L392.2 133.5L394.2 133.5L396.2 133.5L398.2 133.5L400.2 133.5L402.2 133.5L404.2 133.5L406.2 133.5L408.2 133.5L410.2 133.5L412.2 133.5L414.2 133.5L416.3 133.5L418.3 133.5L420.3 133.5L422.3 133.5L424.3 133.5L426.3 133.5L428.3 133.5L430.3 133.5L432.3 133.5L434.3 133.5L436.3 133.5L438.3 133.5L440.3 133.5L442.3 133.4L444.3 133.4L446.3 133.4L448.3 133.4L450.3 133.4L452.3 133.4L454.3 133.4L456.3 133.4L458.3 133.4L460.3 133.4L462.3 133.4L464.3 133.4L466.3 133.4L468.3 133.4L470.3 133.4L472.3 133.4L474.3 133.4L476.3 133.4L478.4 133.4L480.4 133.4L482.4 133.4L484.4 133.4L486.4 133.4L488.4 133.4L490.4 133.4L492.4 133.4L494.4 133.4L496.4 133.4L498.4 133.4L500.4 133.4L502.4 133.4L504.4 133.4L506.4 133.4L508.4 133.4L510.4 133.4L512.4 133.4L514.4 133.4L516.4 133.4L518.4 133.4L520.4 133.4L522.4 133.4L524.4 133.4L526.4 133.5L528.4 133.5L530.4 133.5L532.4 133.5L534.4 133.5L536.4 133.5L538.4 133.5L540.4 133.5L542.5 133.5L544.5 133.5L546.5 133.5L548.5 133.5L550.5 133.5L552.5 133.5L554.5 133.5L556.5 133.5L558.5 133.5L560.5 133.5L562.5 133.5L564.5 133.5L566.5 133.5L568.5 133.5L570.5 133.5L572.5 133.5L574.5 133.5L576.5 133.5L578.5 133.5L580.5 133.5L582.5 133.5L584.5 133.5L586.5 133.5L588.5 133.5L590.5 133.5L592.5 133.5L594.5 133.6L596.5 133.6L598.5 133.6L600.5 133.6L602.5 133.6L604.5 133.6L606.6 133.6L608.6 133.6L610.6 133.6L612.6 133.6L614.6 133.6L616.6 133.6L618.6 133.6L620.6 133.6L622.6 133.6L624.6 133.6L626.6 133.6L628.6 133.6L630.6 133.6L632.6 133.6L634.6 133.6L636.6 133.6L638.6 133.6L640.6 133.6L642.6 133.7L644.6 133.7L646.6 133.7L648.6 133.7L650.6 133.7L652.6 133.7L654.6 133.7L656.6 133.7L658.6 133.7L660.6 133.7L662.6 133.7L664.6 133.7L666.6 133.7L668.6 133.7L670.7 133.7L672.7 133.7L674.7 133.7L676.7 133.7L678.7 133.7L680.7 133.7L682.7 133.7L684.7 133.7L686.7 133.8L688.7 133.8L690.7 133.8L692.7 133.8L694.7 133.8L696.7 133.8L698.7 133.8L700.7 133.8L702.7 133.8L704.7 133.8L706.7 133.8L708.7 133.8L710.7 133.8L712.7 133.8L714.7 133.8L716.7 133.8L718.7 133.8L720.7 133.8L722.7 133.9L724.7 133.9L726.7 133.9L728.7 133.9L730.7 133.9L732.7 133.9L734.8 133.9L736.8 133.9L738.8 133.9L740.8 133.9L742.8 133.9L744.8 133.9L746.8 133.9L748.8 133.9L750.8 133.9L752.8 134.0L754.8 134.0L756.8 134.0L758.8 134.0L760.8 134.0L762.8 134.0L764.8 134.0L766.8 134.0L768.8 134.0L770.8 134.0L772.8 134.0L774.8 134.0L776.8 134.0L778.8 134.1L780.8 134.1L782.8 134.1L784.8 134.1L786.8 134.1L788.8 134.1L790.8 134.1L792.8 134.1L794.8 134.1L796.8 134.1L798.9 134.1L800.9 134.2L802.9 134.2L804.9 134.2L806.9 134.2L808.9 134.2L810.9 134.2L812.9 134.2L814.9 134.2L816.9 134.2L818.9 134.2L820.9 134.3L822.9 134.3L824.9 134.3L826.9 134.3L828.9 134.3L830.9 134.3L832.9 134.3L834.9 134.3L836.9 134.3L838.9 134.4L840.9 134.4L842.9 134.4L844.9 134.4L846.9 134.4L848.9 134.4L850.9 134.4L852.9 134.5L854.9 134.5L856.9 134.5L858.9 134.5L860.9 134.5L862.9 134.5L865.0 134.5L867.0 134.6L869.0 134.6L871.0 134.6L873.0 134.6L875.0 134.6L877.0 134.6L879.0 134.7L881.0 134.7L883.0 134.7L885.0 134.7L887.0 134.7L889.0 134.7L891.0 134.8L893.0 134.8L895.0 134.8L897.0 134.8L899.0 134.8L901.0 134.9L903.0 134.9L905.0 134.9L907.0 134.9L909.0 134.9L911.0 135.0L913.0 135.0L915.0 135.0L917.0 135.0L919.0 135.0L921.0 135.1L923.0 135.1L925.0 135.1L927.0 135.1L929.0 135.2L931.1 135.2L933.1 135.2L935.1 135.2L937.1 135.3L939.1 135.3L941.1 135.3L943.1 135.3L945.1 135.4L947.1 135.4L949.1 135.4L951.1 135.4L953.1 135.5L955.1 135.5L957.1 135.5L959.1 135.6L961.1 135.6L963.1 135.6L965.1 135.7L967.1 135.7L969.1 135.7L971.1 135.8L973.1 135.8L975.1 135.8L977.1 135.9L979.1 135.9L981.1 136.0L983.1 136.0L985.1 136.0L987.1 136.1L989.1 136.1L991.1 136.2L993.1 136.2L995.1 136.2L997.1 136.3L999.1 136.3L1001.2 136.4L1003.2 136.4L1005.2 136.5L1007.2 136.5L1009.2 136.6L1011.2 136.6L1013.2 136.6L1015.2 136.7L1017.2 136.7L1019.2 136.8L1021.2 136.8L1023.2 136.9L1025.2 136.9L1027.2 137.0L1029.2 137.0L1031.2 137.1L1033.2 137.1L1035.2 137.2L1037.2 137.2L1039.2 137.3L1041.2 137.3L1043.2 137.4L1045.2 137.5L1047.2 137.5L1049.2 137.6L1051.2 137.6L1053.2 137.7L1055.2 137.8L1057.2 137.8L1059.2 137.9L1061.2 138.0L1063.2 138.0L1065.2 138.1L1067.2 138.2L1069.2 138.2L1071.2 138.3L1073.2 138.4L1075.2 138.4L1077.2 138.5L1079.2 138.6L1081.2 138.6L1083.2 138.7L1085.2 138.8L1087.2 138.8L1089.3 138.9L1091.3 139.0L1093.3 139.0L1095.3 139.1L1097.3 139.2L1099.3 139.2L1101.3 139.3L1103.3 139.4L1105.3 139.4L1107.3 139.5L1109.3 139.6L1111.3 139.6L1113.3 139.7L1115.3 139.8L1117.3 139.9L1119.3 140.0L1121.3 140.1L1123.3 140.2L1125.3 140.3L1127.3 140.4L1129.3 140.6L1131.3 140.7L1133.3 140.8L1135.3 141.0L1137.3 141.1L1139.3 141.3L1141.3 141.4L1143.3 141.5L1145.3 141.7L1147.3 141.8L1149.3 142.0L1151.3 142.1L1153.3 142.3L1155.2 142.4L1157.2 142.6L1159.2 142.8L1161.2 143.0L1163.2 143.3L1165.2 143.5L1167.2 143.7L1169.2 144.0L1171.2 144.3L1173.2 144.6L1175.1 144.9L1177.1 145.3L1179.1 145.6L1181.0 146.0L1183.0 146.5L1184.9 147.0L1186.8 147.5L1188.8 148.1L1190.7 148.7L1192.6 149.3L1194.5 150.0L1196.4 150.6L1198.3 151.2L1200.2 151.9L1202.1 152.6L1203.9 153.3L1205.7 154.2L1207.5 155.1L1209.2 156.1L1211.0 157.1L1212.6 158.2L1214.3 159.4L1215.8 160.7L1217.3 162.0L1218.8 163.3L1220.3 164.6L1221.8 166.0L1223.2 167.4L1224.6 168.9L1225.9 170.4L1227.1 172.0L1228.3 173.6L1229.5 175.2L1230.5 176.9L1231.5 178.7L1232.5 180.4L1233.4 182.2L1234.3 184.0L1235.3 185.7L1236.2 187.5L1237.0 189.3L1237.9 191.1L1238.8 192.9L1239.6 194.8L1240.5 196.6L1241.3 198.4L1242.1 200.3L1242.9 202.1L1243.7 204.0L1244.5 205.8L1245.2 207.7L1246.0 209.5L1246.7 211.4L1247.5 213.2L1248.2 215.1L1248.9 217.0L1249.6 218.8L1250.3 220.7L1250.9 222.6L1251.6 224.5L1252.2 226.4L1252.9 228.3L1253.5 230.2L1254.1 232.1L1254.7 234.1L1255.3 236.0L1255.8 237.9L1256.4 239.8L1257.0 241.7L1257.5 243.7L1258.0 245.6L1258.6 247.5L1259.1 249.5L1259.6 251.4L1260.0 253.4L1260.5 255.3L1260.9 257.3L1261.4 259.2L1261.8 261.2L1262.2 263.1L1262.7 265.1L1263.1 267.0L1263.5 269.0L1263.9 270.9L1264.3 272.9L1264.7 274.9L1265.1 276.8L1265.5 278.8L1265.9 280.8L1266.3 282.7L1266.6 284.7L1267.0 286.7L1267.4 288.7L1267.7 290.6L1268.1 292.6L1268.5 294.6L1268.8 296.6L1269.1 298.5L1269.5 300.5L1269.8 302.5L1270.2 304.5L1270.5 306.4L1270.8 308.4L1271.1 310.4L1271.5 312.4L1271.8 314.3L1272.1 316.3L1272.4 318.3L1272.7 320.3L1273.0 322.3L1273.3 324.2L1273.6 326.2L1273.9 328.2L1274.1 330.2L1274.4 332.2L1274.7 334.1L1275.0 336.1L1275.2 338.1L1275.5 340.1L1275.8 342.1L1276.0 344.1L1276.3 346.1L1276.5 348.0L1276.8 350.0L1277.0 352.0L1277.3 354.0L1277.5 356.0L1277.8 358.0L1278.0 360.0L1278.3 362.0L1278.5 364.0L1278.8 365.9L1279.0 367.9L1279.2 369.9L1279.5 371.9L1279.7 373.9L1280.0 375.9L1280.2 377.9L1280.4 379.9L1280.7 381.9L1280.9 383.9L1281.1 385.8L1281.4 387.8L1281.6 389.8L1281.8 391.8L1282.1 393.8L1282.3 395.8L1282.5 397.8L1282.8 399.8L1283.0 401.8L1283.2 403.7L1283.5 405.7L1283.7 407.7L1283.9 409.7L1284.1 411.7L1284.4 413.7L1284.6 415.7L1284.8 417.7L1285.0 419.7L1285.3 421.7L1285.5 423.7L1285.7 425.6L1285.9 427.6L1286.1 429.6L1286.3 431.6L1286.5 433.6L1286.7 435.6L1287.0 437.6L1287.2 439.6L1287.4 441.6L1287.6 443.6L1287.8 445.6L1288.0 447.6L1288.1 449.6L1288.3 451.6L1288.5 453.5L1288.7 455.5L1288.9 457.5L1289.1 459.5L1289.3 461.5L1289.5 463.5L1289.7 465.5L1289.9 467.5L1290.1 469.5L1290.2 471.5L1290.4 473.5L1290.6 475.5L1290.8 477.5L1291.0 479.5L1291.2 481.5L1291.4 483.5L1291.5 485.5L1291.7 487.5L1291.9 489.4L1292.1 491.4L1292.2 493.4L1292.4 495.4L1292.6 497.4L1292.8 499.4L1292.9 501.4L1293.1 503.4L1293.2 505.4L1293.4 507.4L1293.6 509.4L1293.7 511.4L1293.9 513.4L1294.0 515.4L1294.2 517.4L1294.3 519.4L1294.4 521.4L1294.6 523.4L1294.7 525.4L1294.8 527.4L1295.0 529.4L1295.1 531.4L1295.2 533.4L1295.3 535.4L1295.4 537.4L1295.6 539.4L1295.7 541.4L1295.8 543.4L1295.9 545.4L1296.0 547.4L1296.1 549.4L1296.2 551.4L1296.3 553.4L1296.4 555.4L1296.5 557.4L1296.6 559.4L1296.6 561.4L1296.7 563.4L1296.8 565.4L1296.9 567.4L1297.0 569.4L1297.1 571.4L1297.2 573.4L1297.2 575.4L1297.3 577.4L1297.4 579.4L1297.5 581.4L1297.6 583.4L1297.7 585.4L1297.7 587.4L1297.8 589.4L1297.9 591.4L1298.0 593.4L1298.1 595.4L1298.2 597.4L1298.2 599.4L1298.3 601.4L1298.4 603.4L1298.5 605.4L1298.6 607.4L1298.7 609.4L1298.8 611.4L1298.9 613.4L1298.9 615.4L1299.0 617.4L1299.1 619.4L1299.2 621.4L1299.3 623.4L1299.4 625.4L1299.5 627.4L1299.6 629.4L1299.7 631.4L1299.8 633.4L1299.9 635.4L1300.1 637.4L1300.2 639.4L1300.3 641.4L1300.4 643.4L1300.5 645.4L1300.6 647.5L1300.7 649.5L1300.8 651.5L1300.9 653.5L1301.0 655.5L1301.1 657.5L1301.2 659.5L1301.3 661.5L1301.4 663.5L1301.6 665.5L1301.7 667.5L1301.8 669.5L1302.0 671.4L1302.1 673.4L1302.3 675.4L1302.4 677.4L1302.6 679.4L1302.7 681.4L1302.9 683.4L1303.1 685.4L1303.3 687.4L1303.6 689.4L1303.8 691.4L1304.0 693.4L1304.3 695.3L1304.6 697.3L1304.8 699.3L1305.1 701.3L1305.4 703.3L1305.7 705.3L1306.0 707.3L1306.2 709.2L1306.5 711.2L1306.8 713.2L1307.1 715.2L1307.4 717.2L1307.7 719.2L1308.0 721.1L1308.2 723.1L1308.5 725.1L1308.8 727.1L1309.1 729.1L1309.4 731.1L1309.6 733.0L1309.9 735.0L1310.2 737.0L1310.5 739.0L1310.8 741.0L1311.1 743.0L1311.4 744.9L1311.8 746.9L1312.1 748.9L1312.4 750.9L1312.7 752.8L1313.1 754.8L1313.4 756.8L1313.8 758.8L1314.1 760.7L1314.5 762.7L1314.8 764.7L1315.2 766.6L1315.6 768.6L1316.0 770.6L1316.4 772.6L1316.8 774.5L1317.2 776.5L1317.6 778.4L1318.0 780.4L1318.5 782.3L1318.9 784.3L1319.4 786.2L1319.9 788.2L1320.4 790.1L1321.0 792.0L1321.7 793.9L1322.4 795.8L1323.0 797.7L1323.6 799.7L1324.1 801.6L1324.6 803.5L1324.9 805.5L1325.1 807.5L1325.3 809.5L1325.4 811.5L1325.6 813.5L1325.8 815.5L1325.9 817.5L1326.2 819.5L1326.4 821.4L1326.8 823.4L1327.2 825.4L1327.6 827.4L1328.2 829.3L1328.8 831.2L1329.6 832.9L1330.7 834.6L1331.9 836.2L1333.2 837.7L1334.6 839.3L1336.0 840.8L1337.2 842.4L1338.5 843.9L1339.8 845.5L1341.2 847.0L1342.5 848.5L1343.8 850.0L1345.1 851.6L1346.3 853.2L1347.4 854.8L1348.4 856.5L1349.4 858.2L1350.4 859.9L1351.3 861.7L1352.2 863.5L1353.0 865.4L1353.9 867.2L1354.7 869.0L1355.5 870.9L1356.3 872.7L1357.1 874.5L1357.9 876.4L1358.7 878.2L1359.4 880.1L1360.1 882.0L1360.8 883.8L1361.5 885.7L1362.2 887.6L1362.9 889.5L1363.6 891.3L1364.3 893.2L1365.0 895.1L1365.7 897.0L1366.3 898.9L1367.0 900.8L1367.6 902.7L1368.2 904.6L1368.9 906.5L1369.5 908.4L1370.1 910.3L1370.6 912.2L1371.2 914.2L1371.8 916.1L1372.4 918.0L1372.9 919.9L1373.5 921.8L1374.1 923.8L1374.7 925.7L1375.2 927.6L1375.8 929.5L1376.4 931.4L1376.9 933.4L1377.5 935.3L1378.1 937.2L1378.6 939.1L1379.2 941.0L1379.8 943.0L1380.3 944.9L1380.9 946.8L1381.4 948.7L1382.0 950.7L1382.5 952.6L1382.9 954.6L1383.4 956.5L1383.8 958.5L1384.2 960.4L1384.5 962.4L1384.9 964.4L1385.3 966.3L1385.7 968.3L1386.0 970.3L1386.4 972.2L1386.8 974.2L1387.2 976.2L1387.6 978.1L1388.0 980.1L1388.4 982.1L1388.9 984.0L1389.3 986.0L1389.8 987.9L1390.2 989.9L1390.7 991.8L1391.2 993.8L1391.7 995.7L1392.2 997.7L1392.7 999.6L1393.2 1001.5L1393.8 1003.5L1394.3 1005.4L1394.9 1007.3L1395.6 1009.2L1396.2 1011.1L1396.9 1012.9L1397.6 1014.8L1398.4 1016.7L1399.1 1018.6L1399.9 1020.4L1400.8 1022.2L1401.6 1024.0L1402.5 1025.8L1403.4 1027.6L1404.3 1029.5L1405.2 1031.3L1406.2 1033.1L1407.2 1034.9L1408.3 1036.6L1409.4 1038.3L1410.5 1039.9L1411.7 1041.5L1413.0 1042.9L1414.3 1044.2L1415.8 1045.6L1417.4 1046.9L1419.1 1048.1L1420.8 1049.3L1422.6 1050.3L1424.3 1051.3L1426.1 1052.1L1427.9 1052.8L1429.8 1053.5L1431.7 1054.2L1433.6 1054.8L1435.6 1055.4L1437.6 1055.8L1439.6 1056.2L1441.6 1056.5L1443.6 1056.6L1445.5 1056.7L1447.5 1056.7L1449.5 1056.8L1451.5 1056.8L1453.5 1056.9L1455.5 1056.9L1457.5 1056.9L1459.5 1057.0L1461.5 1057.0L1463.6 1057.0L1465.6 1057.0L1467.6 1057.1L1469.6 1057.1L1471.6 1057.1L1473.6 1057.1L1475.6 1057.1L1477.6 1057.1L1479.6 1057.2L1481.6 1057.2L1483.6 1057.2L1485.6 1057.2L1487.6 1057.2L1489.6 1057.2L1491.6 1057.2L1493.6 1057.3L1495.6 1057.3L1497.6 1057.3L1499.6 1057.3L1501.6 1057.3L1503.6 1057.3L1505.6 1057.3L1507.7 1057.3L1509.7 1057.3L1511.7 1057.4L1513.7 1057.4L1515.7 1057.4L1517.7 1057.4L1519.7 1057.4L1521.7 1057.4L1523.7 1057.4L1525.7 1057.4L1527.7 1057.4L1529.7 1057.4L1531.7 1057.4L1533.7 1057.5L1535.7 1057.5L1537.7 1057.5L1539.7 1057.5L1541.7 1057.5L1543.7 1057.5L1545.7 1057.5L1547.7 1057.5L1549.7 1057.5L1551.7 1057.5L1553.7 1057.5L1555.7 1057.5L1557.7 1057.5L1559.7 1057.5L1561.7 1057.6L1563.7 1057.6L1565.7 1057.6L1567.7 1057.6L1569.7 1057.6L1571.8 1057.6L1573.8 1057.6L1575.8 1057.6L1577.8 1057.6L1579.8 1057.6L1581.8 1057.6L1583.8 1057.6L1585.8 1057.6L1587.8 1057.6L1589.8 1057.7L1591.8 1057.7L1593.8 1057.7L1595.8 1057.7L1597.8 1057.7L1599.8 1057.7L1601.8 1057.7L1603.8 1057.7L1605.8 1057.7L1607.8 1057.7L1609.8 1057.7L1611.8 1057.8L1613.8 1057.8L1615.8 1057.8L1617.8 1057.8L1619.8 1057.8L1621.8 1057.8L1623.8 1057.8L1625.8 1057.8L1627.8 1057.8L1629.8 1057.9L1631.8 1057.9L1633.8 1057.9L1635.9 1057.9L1637.9 1057.9L1639.9 1057.9L1641.9 1057.9L1643.9 1057.9L1645.9 1058.0L1647.9 1058.0L1649.9 1058.0L1651.9 1058.0L1653.9 1058.0L1655.9 1058.0L1657.9 1058.0L1659.9 1058.0L1661.9 1058.1L1663.9 1058.1L1665.9 1058.1L1667.9 1058.1L1669.9 1058.1L1671.9 1058.1L1673.9 1058.1L1675.9 1058.2L1677.9 1058.2L1679.9 1058.2L1681.9 1058.2L1683.9 1058.2L1685.9 1058.2L1687.9 1058.2L1689.9 1058.3L1691.9 1058.3L1693.9 1058.3L1695.9 1058.3L1697.9 1058.3L1699.9 1058.3L1702.0 1058.4L1704.0 1058.4L1706.0 1058.4L1708.0 1058.4L1710.0 1058.4L1712.0 1058.4L1714.0 1058.4L1716.0 1058.5L1718.0 1058.5L1720.0 1058.5L1722.0 1058.5L1724.0 1058.5L1726.0 1058.5L1728.0 1058.6L1730.0 1058.6L1732.0 1058.6L1734.0 1058.6"/>
<path stroke="#FF8000" d="M290.2 133.3L292.2 133.3L294.2 133.3L296.2 133.3L298.2 133.3L300.2 133.3L302.2 133.3L304.2 133.3L306.2 133.3L308.2 133.3L310.2 133.3L312.2 133.3L314.2 133.3L316.2 133.3L318.2 133.3L320.2 133.3L322.2 133.3L324.2 133.3L326.3 133.3L328.3 133.3L330.3 133.3L332.3 133.3L334.3 133.3L336.3 133.3L338.3 133.3L340.3 133.3L342.3 133.3L344.3 133.3L346.3 133.3L348.3 133.3L350.3 133.3L352.3 133.3L354.3 133.3L356.3 133.3L358.3 133.3L360.3 133.3L362.3 133.3L364.3 133.3L366.3 133.3L368.3 133.3L370.3 133.3L372.3 133.4L374.3 133.4L376.3 133.4L378.3 133.4L380.3 133.4L382.4 133.4L384.4 133.4L386.4 133.4L388.4 133.4L390.4 133.4L392.4 133.4L394.4 133.4L396.4 133.4L398.4 133.4L400.4 133.4L402.4 133.4L404.4 133.4L406.4 133.4L408.4 133.4L410.4 133.4L412.4 133.4L414.4 133.4L416.4 133.4L418.4 133.4L420.4 133.4L422.4 133.4L424.4 133.4L426.4 133.4L428.4 133.4L430.4 133.4L432.4 133.4L434.4 133.4L436.4 133.4L438.5 133.4L440.5 133.4L442.5 133.4L444.5 133.4L446.5 133.4L448.5 133.4L450.5 133.4L452.5 133.4L454.5 133.4L456.5 133.4L458.5 133.4L460.5 133.5L462.5 133.5L464.5 133.5L466.5 133.5L468.5 133.5L470.5 133.5L472.5 133.5L474.5 133.5L476.5 133.5L478.5 133.5L480.5 133.5L482.5 133.5L484.5 133.5L486.5 133.5L488.5 133.5L490.5 133.5L492.5 133.5L494.6 133.5L496.6 133.5L498.6 133.5L500.6 133.5L502.6 133.5L504.6 133.5L506.6 133.5L508.6 133.5L510.6 133.5L512.6 133.5L514.6 133.5L516.6 133.5L518.6 133.5L520.6 133.5L522.6 133.5L524.6 133.5L526.6 133.5L528.6 133.5L530.6 133.6L532.6 133.6L534.6 133.6L536.6 133.6L538.6 133.6L540.6 133.6L542.6 133.6L544.6 133.6L546.6 133.6L548.7 133.6L550.7 133.6L552.7 133.6L554.7 133.6L556.7 133.6L558.7 133.6L560.7 133.6L562.7 133.6L564.7 133.6L566.7 133.6L568.7 133.6L570.7 133.6L572.7 133.6L574.7 133.6L576.7 133.6L578.7 133.6L580.7 133.6L582.7 133.7L584.7 133.7L586.7 133.7L588.7 133.7L590.7 133.7L592.7 133.7L594.7 133.7L596.7 133.7L598.7 133.7L600.7 133.7L602.7 133.7L604.8 133.7L606.8 133.7L608.8 133.7L610.8 133.7L612.8 133.7L614.8 133.7L616.8 133.7L618.8 133.7L620.8 133.7L622.8 133.7L624.8 133.8L626.8 133.8L628.8 133.8L630.8 133.8L632.8 133.8L634.8 133.8L636.8 133.8L638.8 133.8L640.8 133.8L642.8 133.8L644.8 133.8L646.8 133.8L648.8 133.8L650.8 133.8L652.8 133.8L654.8 133.8L656.8 133.8L658.8 133.8L660.9 133.9L662.9 133.9L664.9 133.9L666.9 133.9L668.9 133.9L670.9 133.9L672.9 133.9L674.9 133.9L676.9 133.9L678.9 133.9L680.9 133.9L682.9 133.9L684.9 133.9L686.9 133.9L688.9 133.9L690.9 134.0L692.9 134.0L694.9 134.0L696.9 134.0L698.9 134.0L700.9 134.0L702.9 134.0L704.9 134.0L706.9 134.0L708.9 134.0L710.9 134.0L712.9 134.0L714.9 134.0L717.0 134.1L719.0 134.1L721.0 134.1L723.0 134.1L725.0 134.1L727.0 134.1L729.0 134.1L731.0 134.1L733.0 134.1L735.0 134.1L737.0 134.1L739.0 134.2L741.0 134.2L743.0 134.2L745.0 134.2L747.0 134.2L749.0 134.2L751.0 134.2L753.0 134.2L755.0 134.2L757.0 134.2L759.0 134.3L761.0 134.3L763.0 134.3L765.0 134.3L767.0 134.3L769.0 134.3L771.0 134.3L773.1 134.3L775.1 134.3L777.1 134.4L779.1 134.4L781.1 134.4L783.1 134.4L785.1 134.4L787.1 134.4L789.1 134.4L791.1 134.4L793.1 134.5L795.1 134.5L797.1 134.5L799.1 134.5L801.1 134.5L803.1 134.5L805.1 134.5L807.1 134.6L809.1 134.6L811.1 134.6L813.1 134.6L815.1 134.6L817.1 134.6L819.1 134.6L821.1 134.6L823.1 134.7L825.1 134.7L827.1 134.7L829.2 134.7L831.2 134.7L833.2 134.7L835.2 134.8L837.2 134.8L839.2 134.8L841.2 134.8L843.2 134.8L845.2 134.9L847.2 134.9L849.2 134.9L851.2 134.9L853.2 134.9L855.2 135.0L857.2 135.0L859.2 135.0L861.2 135.0L863.2 135.0L865.2 135.1L867.2 135.1L869.2 135.1L871.2 135.1L873.2 135.1L875.2 135.2L877.2 135.2L879.2 135.2L881.2 135.2L883.2 135.3L885.3 135.3L887.3 135.3L889.3 135.3L891.3 135.4L893.3 135.4L895.3 135.4L897.3 135.5L899.3 135.5L901.3 135.5L903.3 135.5L905.3 135.6L907.3 135.6L909.3 135.6L911.3 135.7L913.3 135.7L915.3 135.7L917.3 135.7L919.3 135.8L921.3 135.8L923.3 135.8L925.3 135.9L927.3 135.9L929.3 135.9L931.3 136.0L933.3 136.0L935.3 136.0L937.3 136.1L939.3 136.1L941.3 136.1L943.3 136.2L945.4 136.2L947.4 136.2L949.4 136.3L951.4 136.3L953.4 136.4L955.4 136.4L957.4 136.5L959.4 136.5L961.4 136.5L963.4 136.6L965.4 136.6L967.4 136.7L969.4 136.7L971.4 136.8L973.4 136.8L975.4 136.9L977.4 136.9L979.4 137.0L981.4 137.1L983.4 137.1L985.4 137.2L987.4 137.2L989.4 137.3L991.4 137.3L993.4 137.4L995.4 137.5L997.4 137.5L999.4 137.6L1001.4 137.7L1003.4 137.7L1005.4 137.8L1007.4 137.8L1009.4 137.9L1011.4 138.0L1013.5 138.0L1015.5 138.1L1017.5 138.2L1019.5 138.2L1021.5 138.3L1023.5 138.4L1025.5 138.4L1027.5 138.5L1029.5 138.6L1031.5 138.7L1033.5 138.7L1035.5 138.8L1037.5 138.9L1039.5 138.9L1041.5 139.0L1043.5 139.1L1045.5 139.2L1047.5 139.3L1049.5 139.4L1051.5 139.4L1053.5 139.5L1055.5 139.6L1057.5 139.7L1059.5 139.8L1061.5 139.9L1063.5 140.0L1065.5 140.1L1067.5 140.2L1069.5 140.3L1071.5 140.4L1073.5 140.5L1075.5 140.6L1077.5 140.7L1079.5 140.8L1081.5 140.9L1083.5 140.9L1085.5 141.0L1087.5 141.1L1089.5 141.2L1091.5 141.3L1093.5 141.4L1095.5 141.5L1097.5 141.6L1099.5 141.7L1101.5 141.8L1103.5 141.9L1105.5 142.0L1107.5 142.0L1109.5 142.1L1111.5 142.3L1113.5 142.4L1115.5 142.5L1117.5 142.6L1119.5 142.7L1121.5 142.9L1123.5 143.0L1125.5 143.2L1127.5 143.4L1129.5 143.6L1131.5 143.7L1133.5 143.9L1135.5 144.1L1137.5 144.3L1139.5 144.5L1141.5 144.6L1143.5 144.8L1145.5 145.0L1147.5 145.2L1149.5 145.5L1151.5 145.7L1153.4 145.9L1155.4 146.1L1157.4 146.4L1159.4 146.6L1161.4 146.9L1163.4 147.1L1165.4 147.4L1167.4 147.7L1169.3 148.0L1171.3 148.3L1173.3 148.6L1175.3 149.0L1177.2 149.4L1179.2 149.8L1181.2 150.2L1183.1 150.6L1185.1 151.0L1187.0 151.5L1189.0 152.0L1190.9 152.5L1192.8 153.1L1194.7 153.7L1196.6 154.3L1198.5 155.0L1200.4 155.7L1202.3 156.4L1204.1 157.2L1206.0 157.9L1207.8 158.8L1209.6 159.7L1211.3 160.8L1213.0 161.8L1214.6 162.9L1216.3 164.1L1218.0 165.2L1219.5 166.5L1221.0 167.8L1222.3 169.3L1223.6 170.9L1224.8 172.4L1226.0 174.0L1227.2 175.7L1228.2 177.4L1229.2 179.1L1230.2 180.8L1231.2 182.6L1232.1 184.3L1233.1 186.1L1234.0 187.9L1234.9 189.7L1235.8 191.5L1236.7 193.3L1237.5 195.1L1238.4 196.9L1239.2 198.8L1240.0 200.6L1240.9 202.5L1241.7 204.3L1242.5 206.1L1243.2 208.0L1244.0 209.8L1244.8 211.7L1245.5 213.5L1246.2 215.4L1247.0 217.3L1247.7 219.1L1248.4 221.0L1249.0 222.9L1249.7 224.8L1250.4 226.7L1251.0 228.6L1251.6 230.5L1252.2 232.4L1252.8 234.3L1253.4 236.2L1254.0 238.2L1254.6 240.1L1255.2 242.0L1255.7 243.9L1256.3 245.9L1256.8 247.8L1257.3 249.7L1257.8 251.7L1258.2 253.6L1258.7 255.6L1259.2 257.5L1259.6 259.5L1260.0 261.4L1260.5 263.4L1260.9 265.3L1261.3 267.3L1261.7 269.2L1262.1 271.2L1262.5 273.2L1262.9 275.1L1263.3 277.1L1263.7 279.1L1264.1 281.0L1264.5 283.0L1264.9 285.0L1265.2 286.9L1265.6 288.9L1266.0 290.9L1266.3 292.9L1266.7 294.8L1267.0 296.8L1267.4 298.8L1267.7 300.8L1268.0 302.8L1268.4 304.7L1268.7 306.7L1269.0 308.7L1269.4 310.7L1269.7 312.6L1270.0 314.6L1270.3 316.6L1270.6 318.6L1270.9 320.5L1271.2 322.5L1271.5 324.5L1271.8 326.5L1272.1 328.5L1272.4 330.5L1272.7 332.4L1272.9 334.4L1273.2 336.4L1273.5 338.4L1273.8 340.4L1274.0 342.4L1274.3 344.3L1274.6 346.3L1274.8 348.3L1275.1 350.3L1275.3 352.3L1275.6 354.3L1275.8 356.3L1276.1 358.3L1276.3 360.2L1276.6 362.2L1276.8 364.2L1277.1 366.2L1277.3 368.2L1277.6 370.2L1277.8 372.2L1278.1 374.2L1278.3 376.2L1278.6 378.1L1278.8 380.1L1279.1 382.1L1279.3 384.1L1279.6 386.1L1279.9 388.1L1280.1 390.1L1280.4 392.1L1280.6 394.0L1280.9 396.0L1281.1 398.0L1281.4 400.0L1281.6 402.0L1281.9 404.0L1282.1 406.0L1282.4 408.0L1282.6 410.0L1282.9 411.9L1283.1 413.9L1283.4 415.9L1283.6 417.9L1283.9 419.9L1284.1 421.9L1284.4 423.9L1284.6 425.9L1284.8 427.8L1285.1 429.8L1285.3 431.8L1285.6 433.8L1285.8 435.8L1286.0 437.8L1286.3 439.8L1286.5 441.8L1286.8 443.8L1287.0 445.8L1287.2 447.7L1287.5 449.7L1287.7 451.7L1287.9 453.7L1288.2 455.7L1288.4 457.7L1288.6 459.7L1288.9 461.7L1289.1 463.7L1289.3 465.7L1289.6 467.6L1289.8 469.6L1290.0 471.6L1290.3 473.6L1290.5 475.6L1290.7 477.6L1291.0 479.6L1291.2 481.6L1291.4 483.6L1291.7 485.6L1291.9 487.5L1292.1 489.5L1292.3 491.5L1292.6 493.5L1292.8 495.5L1293.0 497.5L1293.2 499.5L1293.5 501.5L1293.7 503.5L1293.9 505.5L1294.1 507.5L1294.3 509.5L1294.5 511.4L1294.7 513.4L1294.9 515.4L1295.1 517.4L1295.3 519.4L1295.5 521.4L1295.7 523.4L1295.9 525.4L1296.1 527.4L1296.3 529.4L1296.5 531.4L1296.6 533.4L1296.8 535.4L1297.0 537.4L1297.2 539.4L1297.3 541.4L1297.5 543.4L1297.6 545.4L1297.8 547.4L1298.0 549.3L1298.1 551.3L1298.3 553.3L1298.4 555.3L1298.6 557.3L1298.7 559.3L1298.9 561.3L1299.0 563.3L1299.2 565.3L1299.3 567.3L1299.5 569.3L1299.6 571.3L1299.8 573.3L1299.9 575.3L1300.1 577.3L1300.2 579.3L1300.3 581.3L1300.5 583.3L1300.6 585.3L1300.8 587.3L1300.9 589.3L1301.0 591.3L1301.2 593.3L1301.3 595.3L1301.5 597.3L1301.6 599.3L1301.7 601.3L1301.9 603.3L1302.0 605.3L1302.1 607.3L1302.3 609.3L1302.4 611.3L1302.6 613.3L1302.7 615.3L1302.8 617.3L1303.0 619.3L1303.1 621.3L1303.3 623.3L1303.4 625.3L1303.6 627.3L1303.7 629.3L1303.8 631.3L1304.0 633.3L1304.1 635.3L1304.3 637.3L1304.4 639.3L1304.5 641.3L1304.6 643.3L1304.8 645.3L1304.9 647.3L1305.0 649.3L1305.2 651.3L1305.3 653.3L1305.4 655.3L1305.5 657.3L1305.7 659.3L1305.8 661.3L1305.9 663.3L1306.1 665.3L1306.2 667.3L1306.4 669.3L1306.5 671.3L1306.6 673.3L1306.8 675.3L1307.0 677.3L1307.1 679.3L1307.3 681.3L1307.5 683.3L1307.6 685.3L1307.8 687.3L1308.0 689.3L1308.2 691.2L1308.4 693.2L1308.6 695.2L1308.8 697.2L1309.1 699.2L1309.3 701.2L1309.6 703.2L1309.8 705.2L1310.1 707.2L1310.4 709.2L1310.7 711.1L1311.0 713.1L1311.3 715.1L1311.6 717.1L1311.9 719.0L1312.3 721.0L1312.6 723.0L1313.0 724.9L1313.5 726.9L1313.9 728.9L1314.4 730.8L1314.8 732.8L1315.3 734.7L1315.8 736.7L1316.3 738.6L1316.8 740.5L1317.2 742.5L1317.7 744.4L1318.2 746.4L1318.6 748.4L1319.0 750.3L1319.4 752.3L1319.8 754.2L1320.1 756.2L1320.4 758.2L1320.7 760.2L1320.9 762.2L1321.1 764.2L1321.4 766.3L1321.6 768.3L1321.9 770.3L1322.2 772.2L1322.5 774.2L1322.9 776.1L1323.3 778.1L1323.7 780.0L1324.4 781.8L1325.1 783.7L1326.0 785.5L1326.9 787.4L1327.9 789.1L1328.9 790.9L1329.9 792.5L1331.0 794.2L1332.2 795.8L1333.5 797.4L1334.8 798.9L1336.0 800.5L1337.3 802.1L1338.5 803.7L1339.7 805.3L1340.9 806.9L1342.1 808.5L1343.3 810.1L1344.5 811.7L1345.7 813.4L1346.8 815.0L1348.0 816.7L1349.1 818.3L1350.1 820.0L1351.1 821.7L1352.1 823.5L1353.1 825.2L1354.0 827.0L1354.9 828.8L1355.8 830.6L1356.7 832.4L1357.5 834.2L1358.4 836.0L1359.2 837.9L1360.0 839.7L1360.8 841.5L1361.6 843.4L1362.4 845.2L1363.1 847.1L1363.9 849.0L1364.6 850.8L1365.3 852.7L1366.0 854.6L1366.6 856.5L1367.2 858.4L1367.8 860.3L1368.4 862.2L1368.9 864.1L1369.5 866.1L1370.0 868.0L1370.6 869.9L1371.1 871.9L1371.6 873.8L1372.1 875.7L1372.6 877.7L1373.1 879.6L1373.6 881.6L1374.1 883.5L1374.6 885.5L1375.1 887.4L1375.5 889.3L1376.0 891.3L1376.5 893.2L1377.0 895.2L1377.5 897.1L1378.0 899.1L1378.4 901.0L1378.9 903.0L1379.4 904.9L1379.9 906.8L1380.3 908.8L1380.8 910.8L1381.3 912.7L1381.7 914.7L1382.2 916.6L1382.7 918.6L1383.2 920.5L1383.8 922.4L1384.4 924.3L1385.0 926.2L1385.8 928.0L1386.5 929.9L1387.3 931.8L1388.0 933.6L1388.8 935.5L1389.6 937.3L1390.3 939.2L1391.0 941.1L1391.7 943.0L1392.3 944.9L1393.0 946.8L1393.6 948.6L1394.3 950.5L1394.9 952.4L1395.6 954.3L1396.2 956.2L1396.9 958.1L1397.5 960.0L1398.2 961.9L1398.9 963.8L1399.5 965.7L1400.2 967.6L1400.9 969.4L1401.6 971.3L1402.4 973.2L1403.1 975.1L1403.8 976.9L1404.5 978.8L1405.3 980.7L1406.0 982.5L1406.8 984.4L1407.5 986.3L1408.3 988.1L1409.1 989.9L1409.9 991.8L1410.7 993.6L1411.5 995.4L1412.3 997.3L1413.2 999.1L1414.0 1000.9L1414.9 1002.8L1415.8 1004.6L1416.7 1006.4L1417.6 1008.1L1418.6 1009.9L1419.6 1011.6L1420.6 1013.3L1421.7 1015.0L1422.8 1016.6L1423.9 1018.3L1425.2 1019.9L1426.4 1021.5L1427.7 1023.1L1429.0 1024.6L1430.4 1026.1L1431.8 1027.5L1433.2 1028.9L1434.6 1030.2L1436.2 1031.6L1437.7 1032.9L1439.3 1034.2L1441.0 1035.4L1442.7 1036.5L1444.4 1037.4L1446.1 1038.3L1447.9 1039.1L1449.8 1039.9L1451.7 1040.6L1453.6 1041.3L1455.6 1041.8L1457.6 1042.2L1459.5 1042.4L1461.5 1042.6L1463.5 1042.8L1465.5 1042.9L1467.5 1043.0L1469.5 1043.0L1471.5 1043.1L1473.5 1043.1L1475.5 1043.1L1477.5 1043.1L1479.5 1043.2L1481.5 1043.2L1483.6 1043.2L1485.6 1043.2L1487.6 1043.2L1489.6 1043.2L1491.6 1043.2L1493.6 1043.2L1495.6 1043.2L1497.6 1043.2L1499.6 1043.2L1501.6 1043.3L1503.6 1043.3L1505.6 1043.3L1507.6 1043.3L1509.6 1043.3L1511.6 1043.3L1513.6 1043.3L1515.6 1043.3L1517.6 1043.3L1519.6 1043.3L1521.6 1043.3L1523.6 1043.3L1525.6 1043.3L1527.6 1043.3L1529.6 1043.3L1531.6 1043.3L1533.6 1043.3L1535.6 1043.3L1537.7 1043.3L1539.7 1043.3L1541.7 1043.4L1543.7 1043.4L1545.7 1043.4L1547.7 1043.4L1549.7 1043.4L1551.7 1043.4L1553.7 1043.4L1555.7 1043.4L1557.7 1043.5L1559.7 1043.5L1561.7 1043.5L1563.7 1043.5L1565.7 1043.6L1567.7 1043.6L1569.7 1043.6L1571.7 1043.6L1573.7 1043.7L1575.7 1043.7L1577.7 1043.7L1579.7 1043.8L1581.7 1043.8L1583.7 1043.9L1585.7 1043.9L1587.7 1043.9L1589.7 1044.0L1591.7 1044.0L1593.8 1044.0L1595.8 1044.1L1597.8 1044.1L1599.8 1044.1L1601.8 1044.2L1603.8 1044.2L1605.8 1044.2L1607.8 1044.3L1609.8 1044.3L1611.8 1044.3L1613.8 1044.3L1615.8 1044.4L1617.8 1044.4L1619.8 1044.4L1621.8 1044.4L1623.8 1044.4L1625.8 1044.4L1627.8 1044.5L1629.8 1044.5L1631.8 1044.5L1633.8 1044.5L1635.8 1044.5L1637.8 1044.5L1639.8 1044.5L1641.8 1044.5L1643.8 1044.6L1645.8 1044.6L1647.8 1044.6L1649.8 1044.6L1651.9 1044.6L1653.9 1044.6L1655.9 1044.6L1657.9 1044.6L1659.9 1044.7L1661.9 1044.7L1663.9 1044.7L1665.9 1044.7L1667.9 1044.7L1669.9 1044.7L1671.9 1044.7L1673.9 1044.7L1675.9 1044.7L1677.9 1044.8L1679.9 1044.8L1681.9 1044.8L1683.9 1044.8L1685.9 1044.8L1687.9 1044.8L1689.9 1044.8L1691.9 1044.8L1693.9 1044.8L1695.9 1044.8L1697.9 1044.8L1699.9 1044.8L1701.9 1044.8L1703.9 1044.9L1705.9 1044.9L1708.0 1044.9L1710.0 1044.9L1712.0 1044.9L1714.0 1044.9L1716.0 1044.9L1718.0 1044.9L1720.0 1044.9L1722.0 1044.9L1724.0 1044.9L1726.0 1044.9L1728.0 1044.9L1730.0 1044.9L1732.0 1044.9L1734.0 1044.9"/>
<path stroke="#000000" d="M290.2 133.3L292.2 133.3L294.2 133.3L296.2 133.3L298.2 133.3L300.2 133.3L302.2 133.3L304.2 133.3L306.2 133.3L308.2 133.3L310.2 133.3L312.2 133.3L314.2 133.3L316.2 133.3L318.2 133.3L320.2 133.3L322.2 133.3L324.2 133.3L326.2 133.3L328.2 133.3L330.2 133.3L332.2 133.3L334.2 133.3L336.2 133.3L338.2 133.3L340.2 133.3L342.2 133.3L344.2 133.3L346.2 133.3L348.2 133.3L350.3 133.3L352.3 133.3L354.3 133.3L356.3 133.3L358.3 133.3L360.3 133.3L362.3 133.3L364.3 133.4L366.3 133.4L368.3 133.4L370.3 133.4L372.3 133.4L374.3 133.4L376.3 133.4L378.3 133.4L380.3 133.4L382.3 133.4L384.3 133.4L386.3 133.4L388.3 133.4L390.3 133.4L392.3 133.4L394.3 133.4L396.3 133.4L398.3 133.4L400.3 133.4L402.3 133.4L404.3 133.4L406.3 133.4L408.3 133.4L410.3 133.4L412.3 133.4L414.3 133.4L416.3 133.4L418.3 133.4L420.3 133.4L422.3 133.4L424.3 133.4L426.3 133.4L428.3 133.4L430.3 133.4L432.3 133.4L434.3 133.4L436.3 133.4L438.3 133.4L440.3 133.4L442.4 133.4L444.4 133.4L446.4 133.5L448.4 133.5L450.4 133.5L452.4 133.5L454.4 133.5L456.4 133.5L458.4 133.5L460.4 133.5L462.4 133.5L464.4 133.5L466.4 133.5L468.4 133.5L470.4 133.5L472.4 133.5L474.4 133.5L476.4 133.5L478.4 133.5L480.4 133.5L482.4 133.5L484.4 133.5L486.4 133.5L488.4 133.5L490.4 133.5L492.4 133.5L494.4 133.5L496.4 133.5L498.4 133.5L500.4 133.5L502.4 133.5L504.4 133.5L506.4 133.5L508.4 133.5L510.4 133.5L512.4 133.6L514.4 133.6L516.4 133.6L518.4 133.6L520.4 133.6L522.4 133.6L524.4 133.6L526.4 133.6L528.4 133.6L530.4 133.6L532.4 133.6L534.5 133.6L536.5 133.6L538.5 133.6L540.5 133.6L542.5 133.6L544.5 133.6L546.5 133.6L548.5 133.6L550.5 133.6L552.5 133.6L554.5 133.6L556.5 133.6L558.5 133.7L560.5 133.7L562.5 133.7L564.5 133.7L566.5 133.7L568.5 133.7L570.5 133.7L572.5 133.7L574.5 133.7L576.5 133.7L578.5 133.7L580.5 133.7L582.5 133.7L584.5 133.7L586.5 133.7L588.5 133.7L590.5 133.7L592.5 133.7L594.5 133.7L596.5 133.7L598.5 133.8L600.5 133.8L602.5 133.8L604.5 133.8L606.5 133.8L608.5 133.8L610.5 133.8L612.5 133.8L614.5 133.8L616.5 133.8L618.5 133.8L620.5 133.8L622.5 133.8L624.5 133.8L626.6 133.8L628.6 133.8L630.6 133.8L632.6 133.9L634.6 133.9L636.6 133.9L638.6 133.9L640.6 133.9L642.6 133.9L644.6 133.9L646.6 133.9L648.6 133.9L650.6 133.9L652.6 133.9L654.6 133.9L656.6 133.9L658.6 133.9L660.6 133.9L662.6 133.9L664.6 133.9L666.6 133.9L668.6 134.0L670.6 134.0L672.6 134.0L674.6 134.0L676.6 134.0L678.6 134.0L680.6 134.0L682.6 134.0L684.6 134.0L686.6 134.0L688.6 134.0L690.6 134.0L692.6 134.0L694.6 134.0L696.6 134.0L698.6 134.1L700.6 134.1L702.6 134.1L704.6 134.1L706.6 134.1L708.6 134.1L710.6 134.1L712.6 134.1L714.6 134.1L716.6 134.1L718.6 134.1L720.7 134.1L722.7 134.1L724.7 134.1L726.7 134.2L728.7 134.2L730.7 134.2L732.7 134.2L734.7 134.2L736.7 134.2L738.7 134.2L740.7 134.2L742.7 134.2L744.7 134.2L746.7 134.2L748.7 134.2L750.7 134.2L752.7 134.2L754.7 134.3L756.7 134.3L758.7 134.3L760.7 134.3L762.7 134.3L764.7 134.3L766.7 134.3L768.7 134.3L770.7 134.3L772.7 134.3L774.7 134.3L776.7 134.3L778.7 134.4L780.7 134.4L782.7 134.4L784.7 134.4L786.7 134.4L788.7 134.4L790.7 134.4L792.7 134.4L794.7 134.4L796.7 134.4L798.7 134.4L800.7 134.4L802.7 134.4L804.7 134.5L806.7 134.5L808.7 134.5L810.7 134.5L812.8 134.5L814.8 134.5L816.8 134.5L818.8 134.5L820.8 134.5L822.8 134.5L824.8 134.5L826.8 134.5L828.8 134.5L830.8 134.6L832.8 134.6L834.8 134.6L836.8 134.6L838.8 134.6L840.8 134.6L842.8 134.6L844.8 134.6L846.8 134.6L848.8 134.6L850.8 134.6L852.8 134.6L854.8 134.6L856.8 134.7L858.8 134.7L860.8 134.7L862.8 134.7L864.8 134.7L866.8 134.7L868.8 134.7L870.8 134.7L872.8 134.7L874.8 134.7L876.8 134.7L878.8 134.7L880.8 134.7L882.8 134.8L884.8 134.8L886.8 134.8L888.8 134.8L890.8 134.8L892.8 134.8L894.8 134.8L896.8 134.8L898.8 134.8L900.8 134.8L902.8 134.8L904.9 134.8L906.9 134.9L908.9 134.9L910.9 134.9L912.9 134.9L914.9 134.9L916.9 134.9L918.9 134.9L920.9 134.9L922.9 134.9L924.9 134.9L926.9 134.9L928.9 135.0L930.9 135.0L932.9 135.0L934.9 135.0L936.9 135.0L938.9 135.0L940.9 135.0L942.9 135.0L944.9 135.0L946.9 135.0L948.9 135.0L950.9 135.1L952.9 135.1L954.9 135.1L956.9 135.1L958.9 135.1L960.9 135.1L962.9 135.1L964.9 135.1L966.9 135.1L968.9 135.1L970.9 135.1L972.9 135.2L974.9 135.2L976.9 135.2L978.9 135.2L980.9 135.2L982.9 135.2L984.9 135.2L986.9 135.2L988.9 135.2L990.9 135.2L992.9 135.2L994.9 135.3L997.0 135.3L999.0 135.3L1001.0 135.3L1003.0 135.3L1005.0 135.3L1007.0 135.3L1009.0 135.3L1011.0 135.3L1013.0 135.4L1015.0 135.4L1017.0 135.4L1019.0 135.4L1021.0 135.4L1023.0 135.4L1025.0 135.4L1027.0 135.5L1029.0 135.5L1031.0 135.5L1033.0 135.5L1035.0 135.5L1037.0 135.6L1039.0 135.6L1041.0 135.6L1043.0 135.6L1045.0 135.7L1047.0 135.7L1049.0 135.7L1051.0 135.7L1053.0 135.8L1055.0 135.8L1057.0 135.8L1059.0 135.9L1061.0 135.9L1063.0 136.0L1065.0 136.0L1067.0 136.0L1069.0 136.1L1071.0 136.1L1073.0 136.2L1075.0 136.2L1077.0 136.3L1079.0 136.3L1081.0 136.4L1083.0 136.4L1085.0 136.5L1087.0 136.5L1089.0 136.6L1091.0 136.6L1093.0 136.7L1095.0 136.7L1097.0 136.8L1099.0 136.8L1101.0 136.9L1103.1 137.0L1105.1 137.0L1107.1 137.1L1109.1 137.2L1111.1 137.2L1113.1 137.3L1115.1 137.4L1117.1 137.5L1119.1 137.6L1121.1 137.7L1123.1 137.8L1125.0 138.0L1127.0 138.1L1129.0 138.3L1131.0 138.4L1133.0 138.6L1135.0 138.7L1137.0 138.9L1139.0 139.1L1141.0 139.2L1143.0 139.4L1145.0 139.7L1147.0 139.9L1149.0 140.1L1151.0 140.4L1152.9 140.7L1154.9 140.9L1156.9 141.2L1158.9 141.6L1160.9 141.9L1162.8 142.3L1164.8 142.7L1166.7 143.2L1168.7 143.7L1170.6 144.2L1172.5 144.8L1174.4 145.4L1176.3 146.0L1178.2 146.6L1180.1 147.3L1182.0 148.0L1183.9 148.7L1185.7 149.4L1187.6 150.2L1189.4 151.0L1191.2 151.9L1193.0 152.8L1194.7 153.8L1196.4 154.9L1198.1 156.0L1199.7 157.1L1201.3 158.4L1202.8 159.7L1204.4 161.0L1205.8 162.3L1207.3 163.7L1208.8 165.1L1210.2 166.4L1211.7 167.8L1213.0 169.3L1214.4 170.8L1215.6 172.3L1216.8 173.9L1218.0 175.6L1219.0 177.3L1220.0 179.0L1221.0 180.7L1221.9 182.5L1222.9 184.3L1223.8 186.0L1224.7 187.8L1225.6 189.6L1226.4 191.5L1227.3 193.3L1228.1 195.1L1229.0 196.9L1229.8 198.8L1230.6 200.6L1231.3 202.5L1232.1 204.3L1232.9 206.2L1233.6 208.0L1234.4 209.9L1235.1 211.7L1235.9 213.6L1236.6 215.5L1237.3 217.3L1237.9 219.2L1238.6 221.1L1239.3 223.0L1239.9 224.9L1240.6 226.8L1241.2 228.7L1241.8 230.6L1242.4 232.5L1243.0 234.4L1243.6 236.4L1244.1 238.3L1244.7 240.2L1245.3 242.1L1245.8 244.1L1246.3 246.0L1246.8 247.9L1247.3 249.9L1247.8 251.8L1248.3 253.8L1248.7 255.7L1249.2 257.7L1249.6 259.6L1250.0 261.6L1250.5 263.5L1250.9 265.5L1251.3 267.4L1251.7 269.4L1252.1 271.3L1252.5 273.3L1252.9 275.3L1253.3 277.2L1253.7 279.2L1254.1 281.2L1254.5 283.1L1254.8 285.1L1255.2 287.1L1255.6 289.0L1255.9 291.0L1256.3 293.0L1256.6 295.0L1257.0 296.9L1257.3 298.9L1257.7 300.9L1258.0 302.9L1258.3 304.8L1258.7 306.8L1259.0 308.8L1259.3 310.8L1259.6 312.7L1259.9 314.7L1260.3 316.7L1260.6 318.7L1260.9 320.7L1261.2 322.6L1261.5 324.6L1261.8 326.6L1262.1 328.6L1262.3 330.5L1262.6 332.5L1262.9 334.5L1263.2 336.5L1263.5 338.5L1263.7 340.5L1264.0 342.4L1264.3 344.4L1264.5 346.4L1264.8 348.4L1265.0 350.4L1265.3 352.4L1265.6 354.4L1265.8 356.3L1266.1 358.3L1266.3 360.3L1266.6 362.3L1266.8 364.3L1267.1 366.3L1267.3 368.3L1267.6 370.3L1267.8 372.2L1268.1 374.2L1268.3 376.2L1268.5 378.2L1268.8 380.2L1269.0 382.2L1269.3 384.2L1269.5 386.2L1269.8 388.1L1270.0 390.1L1270.3 392.1L1270.5 394.1L1270.8 396.1L1271.0 398.1L1271.3 400.1L1271.5 402.1L1271.7 404.0L1272.0 406.0L1272.2 408.0L1272.5 410.0L1272.7 412.0L1272.9 414.0L1273.2 416.0L1273.4 418.0L1273.7 419.9L1273.9 421.9L1274.1 423.9L1274.4 425.9L1274.6 427.9L1274.8 429.9L1275.0 431.9L1275.3 433.9L1275.5 435.9L1275.7 437.8L1275.9 439.8L1276.2 441.8L1276.4 443.8L1276.6 445.8L1276.8 447.8L1277.0 449.8L1277.2 451.8L1277.5 453.8L1277.7 455.8L1277.9 457.8L1278.1 459.7L1278.3 461.7L1278.5 463.7L1278.7 465.7L1278.9 467.7L1279.1 469.7L1279.3 471.7L1279.6 473.7L1279.8 475.7L1280.0 477.7L1280.2 479.7L1280.4 481.7L1280.6 483.6L1280.8 485.6L1281.0 487.6L1281.2 489.6L1281.4 491.6L1281.6 493.6L1281.8 495.6L1282.0 497.6L1282.2 499.6L1282.3 501.6L1282.5 503.6L1282.7 505.6L1282.9 507.6L1283.1 509.6L1283.3 511.5L1283.4 513.5L1283.6 515.5L1283.8 517.5L1284.0 519.5L1284.1 521.5L1284.3 523.5L1284.5 525.5L1284.6 527.5L1284.8 529.5L1284.9 531.5L1285.1 533.5L1285.2 535.5L1285.4 537.5L1285.5 539.5L1285.7 541.5L1285.8 543.5L1286.0 545.5L1286.1 547.5L1286.2 549.5L1286.3 551.5L1286.5 553.5L1286.6 555.5L1286.7 557.5L1286.8 559.5L1287.0 561.5L1287.1 563.5L1287.2 565.5L1287.3 567.5L1287.4 569.4L1287.6 571.4L1287.7 573.4L1287.8 575.4L1287.9 577.4L1288.0 579.4L1288.1 581.4L1288.2 583.4L1288.4 585.4L1288.5 587.4L1288.6 589.4L1288.7 591.4L1288.8 593.4L1288.9 595.4L1289.1 597.4L1289.2 599.4L1289.3 601.4L1289.4 603.4L1289.5 605.4L1289.7 607.4L1289.8 609.4L1289.9 611.4L1290.1 613.4L1290.2 615.4L1290.3 617.4L1290.5 619.4L1290.6 621.4L1290.7 623.4L1290.9 625.4L1291.0 627.4L1291.2 629.4L1291.3 631.4L1291.5 633.4L1291.6 635.4L1291.8 637.4L1291.9 639.4L1292.1 641.4L1292.2 643.4L1292.4 645.4L1292.6 647.4L1292.7 649.4L1292.9 651.4L1293.0 653.4L1293.2 655.4L1293.4 657.4L1293.5 659.4L1293.7 661.4L1293.9 663.3L1294.1 665.3L1294.2 667.3L1294.4 669.3L1294.6 671.3L1294.8 673.3L1295.0 675.3L1295.2 677.3L1295.4 679.3L1295.6 681.3L1295.8 683.3L1296.0 685.3L1296.3 687.2L1296.5 689.2L1296.7 691.2L1297.0 693.2L1297.3 695.2L1297.6 697.2L1297.9 699.1L1298.2 701.1L1298.6 703.1L1298.9 705.1L1299.2 707.0L1299.6 709.0L1299.9 711.0L1300.2 713.0L1300.5 715.0L1300.8 716.9L1301.0 718.9L1301.2 720.9L1301.4 722.9L1301.5 724.9L1301.7 726.9L1301.9 728.9L1302.0 730.9L1302.1 732.9L1302.3 734.9L1302.4 736.9L1302.5 738.9L1302.6 740.9L1302.8 742.9L1302.9 744.9L1303.0 746.9L1303.2 748.9L1303.3 750.9L1303.5 752.9L1303.7 754.9L1303.9 756.9L1304.1 758.8L1304.4 760.8L1304.6 762.8L1304.8 764.8L1305.1 766.8L1305.4 768.8L1305.6 770.8L1305.9 772.7L1306.2 774.7L1306.4 776.7L1306.7 778.7L1307.0 780.7L1307.2 782.7L1307.5 784.7L1307.7 786.6L1307.9 788.6L1308.1 790.6L1308.3 792.6L1308.5 794.6L1308.7 796.6L1308.9 798.6L1309.1 800.6L1309.2 802.6L1309.4 804.6L1309.6 806.6L1309.8 808.6L1310.0 810.6L1310.2 812.6L1310.4 814.6L1310.6 816.6L1310.8 818.5L1311.1 820.5L1311.4 822.5L1311.7 824.5L1312.0 826.5L1312.4 828.4L1312.8 830.4L1313.2 832.4L1313.6 834.3L1314.1 836.3L1314.6 838.2L1315.3 840.1L1316.1 841.9L1317.1 843.7L1318.0 845.5L1319.0 847.3L1319.8 849.1L1320.4 851.0L1320.7 852.9L1321.1 854.9L1321.3 856.9L1321.6 858.9L1321.8 860.9L1322.0 862.9L1322.2 864.9L1322.3 866.9L1322.4 868.9L1322.5 870.9L1322.6 872.9L1322.8 874.9L1323.0 876.9L1323.4 878.8L1324.2 880.7L1325.1 882.5L1326.2 884.2L1327.2 885.8L1328.5 887.3L1329.8 888.8L1331.3 890.1L1332.8 891.5L1334.4 892.8L1335.9 894.2L1337.4 895.6L1338.9 897.0L1340.3 898.4L1341.6 899.9L1343.0 901.4L1344.3 902.8L1345.6 904.3L1347.0 905.8L1348.3 907.3L1349.6 908.8L1351.0 910.3L1352.3 911.8L1353.6 913.3L1355.0 914.8L1356.3 916.3L1357.6 917.8L1359.0 919.3L1360.3 920.8L1361.6 922.3L1363.0 923.8L1364.3 925.3L1365.6 926.8L1367.0 928.2L1368.3 929.7L1369.7 931.2L1371.0 932.7L1372.4 934.1L1373.8 935.6L1375.2 937.0L1376.6 938.5L1377.9 939.9L1379.3 941.4L1380.7 942.9L1382.0 944.3L1383.3 945.8L1384.6 947.4L1385.9 948.9L1387.2 950.4L1388.5 952.0L1389.7 953.5L1391.0 955.1L1392.2 956.7L1393.5 958.2L1394.7 959.8L1395.9 961.4L1397.2 963.0L1398.4 964.6L1399.6 966.2L1400.8 967.7L1402.1 969.3L1403.3 970.9L1404.5 972.5L1405.7 974.1L1406.9 975.7L1408.1 977.3L1409.3 978.9L1410.5 980.5L1411.7 982.1L1412.8 983.8L1414.0 985.4L1415.2 987.0L1416.5 988.6L1417.7 990.2L1418.9 991.7L1420.1 993.3L1421.3 994.9L1422.5 996.5L1423.8 998.1L1425.0 999.7L1426.2 1001.3L1427.4 1002.8L1428.7 1004.4L1429.9 1006.0L1431.1 1007.6L1432.4 1009.1L1433.6 1010.7L1434.9 1012.3L1436.1 1013.8L1437.4 1015.4L1438.6 1017.0L1439.9 1018.5L1441.1 1020.1L1442.4 1021.7L1443.6 1023.2L1444.9 1024.8L1446.2 1026.4L1447.4 1027.9L1448.7 1029.5L1449.9 1031.0L1451.2 1032.6L1452.5 1034.1L1453.8 1035.6L1455.1 1037.1L1456.5 1038.6L1457.8 1040.1L1459.2 1041.6L1460.5 1043.0L1461.9 1044.4L1463.3 1045.9L1464.7 1047.3L1466.2 1048.7L1467.6 1050.1L1469.1 1051.5L1470.6 1052.9L1472.0 1054.2L1473.5 1055.6L1475.1 1056.9L1476.6 1058.1L1478.1 1059.4L1479.7 1060.6L1481.3 1061.8L1482.9 1063.0L1484.5 1064.2L1486.2 1065.3L1487.8 1066.5L1489.5 1067.6L1491.2 1068.7L1492.9 1069.7L1494.6 1070.8L1496.3 1071.8L1498.0 1072.8L1499.8 1073.8L1501.5 1074.8L1503.3 1075.8L1505.0 1076.7L1506.8 1077.7L1508.6 1078.6L1510.4 1079.5L1512.2 1080.3L1514.0 1081.2L1515.9 1082.0L1517.7 1082.8L1519.5 1083.5L1521.4 1084.2L1523.3 1084.9L1525.2 1085.6L1527.1 1086.3L1529.0 1086.9L1530.9 1087.5L1532.8 1088.1L1534.7 1088.7L1536.6 1089.3L1538.6 1089.8L1540.5 1090.3L1542.4 1090.8L1544.4 1091.3L1546.3 1091.8L1548.3 1092.3L1550.2 1092.8L1552.2 1093.3L1554.1 1093.7L1556.1 1094.1L1558.1 1094.5L1560.0 1094.9L1562.0 1095.2L1564.0 1095.5L1565.9 1095.8L1567.9 1096.0L1569.9 1096.3L1571.9 1096.5L1573.9 1096.8L1575.9 1097.0L1577.9 1097.2L1579.9 1097.4L1581.9 1097.6L1583.9 1097.8L1585.9 1097.9L1587.9 1098.0L1589.9 1098.1L1591.9 1098.2L1593.9 1098.3L1595.9 1098.4L1597.9 1098.5L1599.9 1098.6L1601.9 1098.6L1603.9 1098.7L1605.9 1098.8L1607.9 1098.8L1609.9 1098.9L1611.9 1098.9L1613.9 1098.9L1615.9 1099.0L1617.9 1099.0L1619.9 1099.0L1621.9 1099.0L1623.9 1099.0L1625.9 1099.0L1627.9 1099.0L1629.9 1099.0L1631.9 1099.0L1633.9 1099.1L1635.9 1099.1L1637.9 1099.1L1639.9 1099.1L1641.9 1099.1L1643.9 1099.1L1645.9 1099.1L1647.9 1099.1L1649.9 1099.1L1651.9 1099.1L1653.9 1099.1L1655.9 1099.1L1657.9 1099.1L1659.9 1099.1L1661.9 1099.1L1663.9 1099.1L1665.9 1099.1L1667.9 1099.1L1669.9 1099.1L1671.9 1099.1L1673.9 1099.1L1675.9 1099.1L1677.9 1099.1L1679.9 1099.1L1681.9 1099.1L1683.9 1099.1L1685.9 1099.1L1687.9 1099.1L1690.0 1099.1L1692.0 1099.1L1694.0 1099.1L1696.0 1099.1L1698.0 1099.1L1700.0 1099.1L1702.0 1099.1L1704.0 1099.1L1706.0 1099.1L1708.0 1099.1L1710.0 1099.1L1712.0 1099.1L1714.0 1099.1L1716.0 1099.1L1718.0 1099.1L1720.0 1099.1L1722.0 1099.1L1724.0 1099.1L1726.0 1099.1L1728.0 1099.1L1730.0 1099.1L1732.0 1099.1L1734.0 1099.1"/>
</g>
<g stroke="#000" fill="none">
<line x1="271" y1="37.0" x2="1755" y2="37.0" stroke-width="4"/>
<line x1="271" y1="1195.5" x2="1755" y2="1195.5" stroke-width="5"/>
<line x1="282.0" y1="35.0" x2="282.0" y2="1198.0" stroke-width="4"/>
<line x1="1752.5" y1="35.0" x2="1752.5" y2="1217.8" stroke-width="5"/>
<line x1="260" y1="1098.9" x2="282.0" y2="1098.9" stroke-width="5"/>
<line x1="260" y1="905.8" x2="282.0" y2="905.8" stroke-width="5"/>
<line x1="260" y1="712.7" x2="282.0" y2="712.7" stroke-width="5"/>
<line x1="260" y1="519.5" x2="282.0" y2="519.5" stroke-width="5"/>
<line x1="260" y1="326.4" x2="282.0" y2="326.4" stroke-width="5"/>
<line x1="260" y1="133.3" x2="282.0" y2="133.3" stroke-width="5"/>
<line x1="271" y1="1002.3" x2="282.0" y2="1002.3" stroke-width="5"/>
<line x1="271" y1="809.2" x2="282.0" y2="809.2" stroke-width="5"/>
<line x1="271" y1="616.1" x2="282.0" y2="616.1" stroke-width="5"/>
<line x1="271" y1="423.0" x2="282.0" y2="423.0" stroke-width="5"/>
<line x1="271" y1="229.9" x2="282.0" y2="229.9" stroke-width="5"/>
<line x1="445.5" y1="1195.5" x2="445.5" y2="1217.8" stroke-width="5"/>
<line x1="663.3" y1="1195.5" x2="663.3" y2="1217.8" stroke-width="5"/>
<line x1="881.2" y1="1195.5" x2="881.2" y2="1217.8" stroke-width="5"/>
<line x1="1099.0" y1="1195.5" x2="1099.0" y2="1217.8" stroke-width="5"/>
<line x1="1316.8" y1="1195.5" x2="1316.8" y2="1217.8" stroke-width="5"/>
<line x1="1534.7" y1="1195.5" x2="1534.7" y2="1217.8" stroke-width="5"/>
<line x1="336.6" y1="1195.5" x2="336.6" y2="1206" stroke-width="5"/>
<line x1="554.4" y1="1195.5" x2="554.4" y2="1206" stroke-width="5"/>
<line x1="772.2" y1="1195.5" x2="772.2" y2="1206" stroke-width="5"/>
<line x1="990.1" y1="1195.5" x2="990.1" y2="1206" stroke-width="5"/>
<line x1="1207.9" y1="1195.5" x2="1207.9" y2="1206" stroke-width="5"/>
<line x1="1425.7" y1="1195.5" x2="1425.7" y2="1206" stroke-width="5"/>
<line x1="1643.6" y1="1195.5" x2="1643.6" y2="1206" stroke-width="5"/>
</g>
<text font-size="57.5" text-anchor="end" transform="translate(243.0 1116.1) scale(1.0 1.035)">0</text>
<text font-size="57.5" text-anchor="end" transform="translate(243.0 923.0) scale(1.0 1.035)">20</text>
<text font-size="57.5" text-anchor="end" transform="translate(243.0 729.9) scale(1.0 1.035)">40</text>
<text font-size="57.5" text-anchor="end" transform="translate(243.0 536.7) scale(1.0 1.035)">60</text>
<text font-size="57.5" text-anchor="end" transform="translate(243.0 343.6) scale(1.0 1.035)">80</text>
<text font-size="57.5" text-anchor="end" transform="translate(243.0 150.5) scale(1.0 1.035)">100</text>
<text font-size="57.5" text-anchor="middle" transform="translate(445.1 1279.3) scale(1.0 1.035)">100</text>
<text font-size="57.5" text-anchor="middle" transform="translate(662.9 1279.3) scale(1.0 1.035)">200</text>
<text font-size="57.5" text-anchor="middle" transform="translate(880.8 1279.3) scale(1.0 1.035)">300</text>
<text font-size="57.5" text-anchor="middle" transform="translate(1098.6 1279.3) scale(1.0 1.035)">400</text>
<text font-size="57.5" text-anchor="middle" transform="translate(1316.4 1279.3) scale(1.0 1.035)">500</text>
<text font-size="57.5" text-anchor="middle" transform="translate(1534.3 1279.3) scale(1.0 1.035)">600</text>
<text font-size="57.5" text-anchor="middle" transform="translate(1752.1 1279.3) scale(1.0 1.035)">700</text>
<text font-size="73.5" text-anchor="middle" transform="translate(1018.0 1393.0) scale(1.021 1.0)">Temperature (°C)</text>
<text font-size="73.5" text-anchor="middle" transform="translate(79.0 595.5) rotate(-90) scale(1.016 1.0)">Weight (%)</text>
<line x1="1299.5" y1="96.1" x2="1429.5" y2="96.1" stroke="#FF8000" stroke-width="7.6" stroke-linecap="round"/>
<text font-size="52.8" text-anchor="start" transform="translate(1443.5 115.9) scale(1.0 1.02)">20-20</text>
<line x1="1299.5" y1="169.7" x2="1429.5" y2="169.7" stroke="#0000FF" stroke-width="7.6" stroke-linecap="round"/>
<text font-size="52.8" text-anchor="start" transform="translate(1443.5 189.5) scale(1.0 1.02)">20-10</text>
<line x1="1299.5" y1="243.3" x2="1429.5" y2="243.3" stroke="#FF00FF" stroke-width="7.6" stroke-linecap="round"/>
<text font-size="52.8" text-anchor="start" transform="translate(1443.5 263.1) scale(1.0 1.02)">10-20</text>
<line x1="1299.5" y1="316.9" x2="1429.5" y2="316.9" stroke="#00FF00" stroke-width="7.6" stroke-linecap="round"/>
<text font-size="52.8" text-anchor="start" transform="translate(1443.5 336.7) scale(1.0 1.02)">10-10</text>
<line x1="1299.5" y1="390.5" x2="1429.5" y2="390.5" stroke="#000000" stroke-width="7.6" stroke-linecap="round"/>
<text font-size="52.8" text-anchor="start" transform="translate(1443.5 410.3) scale(1.0 1.02)">P(VDF-HFP)</text>
<rect x="321.4" y="375.8" width="882.9" height="742.8" fill="#fff" stroke="#ED7D31" stroke-width="5.4"/>
<g stroke="#000" fill="none">
<line x1="386" y1="398.4" x2="1140.05" y2="398.4" stroke-width="1.6"/>
<line x1="1139.3" y1="398.4" x2="1139.3" y2="1028.4" stroke-width="1.6"/>
<line x1="397.0" y1="398.4" x2="397.0" y2="1029.4" stroke-width="2.2"/>
<line x1="386" y1="1028.4" x2="1140.05" y2="1028.4" stroke-width="2.2"/>
<line x1="386" y1="608.4" x2="397.0" y2="608.4" stroke-width="2"/>
<line x1="386" y1="818.4" x2="397.0" y2="818.4" stroke-width="2"/>
<line x1="392" y1="504.2" x2="397.0" y2="504.2" stroke-width="2"/>
<line x1="392" y1="714.2" x2="397.0" y2="714.2" stroke-width="2"/>
<line x1="392" y1="924.2" x2="397.0" y2="924.2" stroke-width="2"/>
<line x1="409.7" y1="1028.4" x2="409.7" y2="1039" stroke-width="2"/>
<line x1="525.5" y1="1028.4" x2="525.5" y2="1039" stroke-width="2"/>
<line x1="641.3" y1="1028.4" x2="641.3" y2="1039" stroke-width="2"/>
<line x1="757.1" y1="1028.4" x2="757.1" y2="1039" stroke-width="2"/>
<line x1="872.9" y1="1028.4" x2="872.9" y2="1039" stroke-width="2"/>
<line x1="988.7" y1="1028.4" x2="988.7" y2="1039" stroke-width="2"/>
<line x1="1104.5" y1="1028.4" x2="1104.5" y2="1039" stroke-width="2"/>
<line x1="467.6" y1="1028.4" x2="467.6" y2="1033" stroke-width="2"/>
<line x1="583.4" y1="1028.4" x2="583.4" y2="1033" stroke-width="2"/>
<line x1="699.2" y1="1028.4" x2="699.2" y2="1033" stroke-width="2"/>
<line x1="815.0" y1="1028.4" x2="815.0" y2="1033" stroke-width="2"/>
<line x1="930.8" y1="1028.4" x2="930.8" y2="1033" stroke-width="2"/>
<line x1="1046.6" y1="1028.4" x2="1046.6" y2="1033" stroke-width="2"/>
</g>
<clipPath id="ic"><rect x="395.9" y="398.4" width="742.3" height="631.1"/></clipPath>
<g fill="none" stroke-width="6.3" stroke-linecap="butt" stroke-linejoin="round" clip-path="url(#ic)">
<path stroke="#FF00FF" d="M397.7 506.8L399.7 507.1L401.7 507.5L403.6 507.8L405.6 508.2L407.6 508.5L409.6 508.9L411.6 509.2L413.5 509.6L415.5 509.9L417.5 510.3L419.5 510.6L421.4 511.0L423.4 511.4L425.4 511.7L427.4 512.1L429.3 512.5L431.3 512.9L433.3 513.2L435.2 513.6L437.2 514.0L439.2 514.4L441.2 514.8L443.1 515.2L445.1 515.6L447.1 516.0L449.0 516.4L451.0 516.8L453.0 517.2L454.9 517.6L456.9 518.0L458.8 518.4L460.8 518.8L462.8 519.3L464.7 519.7L466.7 520.1L468.7 520.6L470.6 521.0L472.6 521.4L474.5 521.9L476.5 522.3L478.4 522.8L480.4 523.2L482.4 523.7L484.3 524.1L486.3 524.6L488.2 525.1L490.2 525.5L492.1 526.0L494.1 526.5L496.0 526.9L498.0 527.4L499.9 527.9L501.9 528.3L503.8 528.8L505.8 529.3L507.7 529.8L509.7 530.2L511.7 530.7L513.6 531.2L515.6 531.7L517.5 532.1L519.5 532.6L521.4 533.1L523.4 533.6L525.3 534.0L527.3 534.5L529.2 535.0L531.2 535.4L533.1 535.9L535.1 536.4L537.0 536.8L539.0 537.3L540.9 537.7L542.9 538.2L544.9 538.7L546.8 539.1L548.8 539.6L550.7 540.1L552.7 540.6L554.6 541.0L556.6 541.5L558.5 542.0L560.5 542.5L562.4 543.0L564.4 543.4L566.3 543.9L568.3 544.4L570.2 544.9L572.2 545.4L574.1 545.9L576.0 546.5L578.0 547.0L579.9 547.5L581.8 548.0L583.8 548.6L585.7 549.1L587.6 549.7L589.6 550.2L591.5 550.8L593.4 551.3L595.3 551.9L597.3 552.4L599.2 553.0L601.1 553.6L603.1 554.2L605.0 554.8L606.9 555.3L608.8 555.9L610.8 556.5L612.7 557.1L614.6 557.7L616.5 558.4L618.4 559.0L620.4 559.6L622.3 560.2L624.2 560.8L626.1 561.5L628.0 562.1L629.9 562.8L631.8 563.4L633.7 564.1L635.6 564.8L637.5 565.4L639.4 566.1L641.3 566.8L643.1 567.5L645.0 568.2L646.9 568.9L648.7 569.6L650.6 570.4L652.5 571.1L654.3 571.8L656.2 572.6L658.0 573.4L659.8 574.1L661.7 574.9L663.5 575.7L665.3 576.5L667.2 577.4L669.0 578.2L670.8 579.0L672.6 579.9L674.5 580.7L676.3 581.6L678.1 582.5L679.9 583.4L681.7 584.3L683.5 585.2L685.3 586.1L687.1 587.0L688.9 587.9L690.7 588.8L692.5 589.8L694.2 590.7L696.0 591.6L697.8 592.6L699.6 593.5L701.4 594.5L703.1 595.4L704.9 596.4L706.7 597.4L708.4 598.3L710.2 599.3L712.0 600.3L713.7 601.3L715.5 602.2L717.2 603.2L719.0 604.2L720.7 605.2L722.5 606.2L724.2 607.1L725.9 608.1L727.7 609.2L729.4 610.2L731.1 611.2L732.9 612.2L734.6 613.2L736.3 614.3L738.0 615.3L739.8 616.4L741.5 617.4L743.2 618.5L744.9 619.6L746.6 620.7L748.3 621.8L749.9 622.9L751.6 624.0L753.3 625.1L755.0 626.2L756.6 627.3L758.3 628.4L759.9 629.6L761.6 630.7L763.2 631.8L764.9 633.0L766.5 634.2L768.1 635.3L769.8 636.5L771.4 637.7L773.0 638.9L774.6 640.1L776.2 641.3L777.8 642.5L779.4 643.8L781.0 645.0L782.6 646.3L784.2 647.5L785.7 648.8L787.3 650.0L788.8 651.3L790.4 652.6L791.9 653.9L793.4 655.2L794.9 656.6L796.3 657.9L797.8 659.3L799.3 660.6L800.7 662.0L802.2 663.4L803.6 664.8L805.1 666.2L806.5 667.6L807.9 669.1L809.3 670.5L810.7 672.0L812.1 673.4L813.5 674.9L814.9 676.3L816.3 677.8L817.6 679.3L819.0 680.7L820.4 682.2L821.7 683.7L823.1 685.2L824.4 686.7L825.7 688.2L827.1 689.7L828.4 691.2L829.7 692.7L831.0 694.2L832.3 695.8L833.6 697.3L834.9 698.8L836.2 700.4L837.4 702.0L838.7 703.5L840.0 705.1L841.2 706.6L842.5 708.2L843.7 709.8L845.0 711.3L846.2 712.9L847.5 714.5L848.8 716.0L850.0 717.6L851.3 719.2L852.5 720.8L853.8 722.3L855.0 723.9L856.2 725.5L857.5 727.1L858.7 728.7L859.9 730.3L861.2 731.8L862.4 733.4L863.6 735.0L864.8 736.6L866.0 738.2L867.2 739.8L868.4 741.5L869.6 743.1L870.8 744.7L872.0 746.3L873.2 747.9L874.3 749.6L875.5 751.2L876.7 752.8L877.8 754.5L879.0 756.1L880.1 757.8L881.3 759.4L882.4 761.1L883.6 762.7L884.7 764.4L885.8 766.0L887.0 767.7L888.1 769.4L889.2 771.0L890.3 772.7L891.4 774.4L892.5 776.1L893.6 777.7L894.7 779.4L895.8 781.1L896.9 782.8L898.0 784.5L899.0 786.2L900.1 787.9L901.2 789.6L902.2 791.3L903.3 793.0L904.3 794.7L905.4 796.4L906.4 798.2L907.5 799.9L908.5 801.6L909.5 803.3L910.5 805.0L911.6 806.8L912.6 808.5L913.6 810.2L914.6 812.0L915.6 813.7L916.6 815.5L917.6 817.2L918.6 819.0L919.5 820.7L920.5 822.5L921.5 824.2L922.5 826.0L923.4 827.8L924.4 829.5L925.3 831.3L926.3 833.1L927.2 834.8L928.2 836.6L929.1 838.4L930.0 840.2L930.9 841.9L931.8 843.7L932.8 845.5L933.7 847.3L934.6 849.1L935.5 850.9L936.4 852.7L937.3 854.5L938.2 856.3L939.1 858.1L939.9 859.9L940.8 861.7L941.7 863.5L942.5 865.3L943.4 867.2L944.2 869.0L945.1 870.8L945.9 872.6L946.8 874.4L947.6 876.3L948.4 878.1L949.2 879.9L950.1 881.8L950.9 883.6L951.7 885.4L952.5 887.3L953.3 889.1L954.1 890.9L954.9 892.8L955.7 894.6L956.5 896.5L957.3 898.3L958.1 900.2L958.8 902.0L959.6 903.9L960.4 905.7L961.2 907.6L961.9 909.5L962.7 911.3L963.5 913.2L964.2 915.0L965.0 916.9L965.7 918.8L966.4 920.6L967.2 922.5L967.9 924.4L968.7 926.2L969.4 928.1L970.1 930.0L970.8 931.8L971.5 933.7L972.2 935.6L972.9 937.5L973.6 939.4L974.3 941.2L975.0 943.1L975.7 945.0L976.4 946.9L977.1 948.8L977.8 950.7L978.4 952.6L979.1 954.5L979.8 956.4L980.5 958.2L981.2 960.1L981.8 962.0L982.5 963.9L983.1 965.8L983.8 967.7L984.5 969.6L985.1 971.5L985.7 973.4L986.4 975.3L987.0 977.2L987.6 979.1L988.3 981.0L988.9 983.0L989.5 984.9L990.2 986.8L990.8 988.7L991.4 990.6L992.0 992.5L992.6 994.4L993.3 996.3L993.9 998.2L994.5 1000.1L995.1 1002.1L995.7 1004.0L996.3 1005.9L996.9 1007.8L997.5 1009.7L998.1 1011.6L998.7 1013.5L999.4 1015.4L1000.0 1017.4L1000.6 1019.3L1001.2 1021.2L1001.8 1023.1L1002.4 1025.0L1003.0 1026.9L1003.5 1028.9L1004.1 1030.8L1004.7 1032.7L1005.3 1034.6L1005.9 1036.5L1006.5 1038.5L1007.1 1040.4L1007.6 1042.3L1008.2 1044.2L1008.8 1046.2L1009.4 1048.1L1010.0 1050.0"/>
<path stroke="#00FF00" d="M397.7 490.8L399.7 491.1L401.7 491.3L403.7 491.6L405.7 491.9L407.6 492.1L409.6 492.4L411.6 492.7L413.6 492.9L415.6 493.2L417.6 493.5L419.6 493.8L421.5 494.0L423.5 494.3L425.5 494.6L427.5 494.9L429.5 495.2L431.5 495.5L433.5 495.7L435.4 496.0L437.4 496.3L439.4 496.6L441.4 496.9L443.4 497.2L445.4 497.5L447.3 497.8L449.3 498.1L451.3 498.4L453.3 498.7L455.3 499.0L457.3 499.3L459.2 499.6L461.2 499.9L463.2 500.2L465.2 500.5L467.2 500.8L469.2 501.1L471.1 501.4L473.1 501.8L475.1 502.1L477.1 502.4L479.1 502.7L481.1 503.0L483.0 503.3L485.0 503.6L487.0 504.0L489.0 504.3L491.0 504.6L492.9 504.9L494.9 505.3L496.9 505.6L498.9 505.9L500.8 506.3L502.8 506.6L504.8 506.9L506.8 507.3L508.7 507.6L510.7 508.0L512.7 508.4L514.7 508.7L516.6 509.1L518.6 509.5L520.6 509.8L522.5 510.2L524.5 510.6L526.5 511.0L528.4 511.4L530.4 511.8L532.4 512.2L534.3 512.6L536.3 513.0L538.2 513.5L540.2 513.9L542.2 514.3L544.1 514.7L546.1 515.2L548.0 515.6L550.0 516.1L552.0 516.5L553.9 517.0L555.9 517.4L557.8 517.9L559.8 518.4L561.7 518.8L563.7 519.3L565.6 519.8L567.6 520.3L569.5 520.7L571.5 521.2L573.4 521.7L575.4 522.2L577.3 522.7L579.2 523.2L581.2 523.7L583.1 524.2L585.0 524.8L587.0 525.3L588.9 525.8L590.8 526.3L592.8 526.9L594.7 527.4L596.6 527.9L598.6 528.5L600.5 529.0L602.4 529.6L604.3 530.2L606.3 530.7L608.2 531.3L610.1 531.9L612.0 532.5L614.0 533.0L615.9 533.6L617.8 534.2L619.7 534.8L621.6 535.4L623.6 536.0L625.5 536.7L627.4 537.3L629.3 537.9L631.2 538.5L633.1 539.2L635.0 539.8L636.9 540.5L638.8 541.1L640.7 541.8L642.6 542.4L644.5 543.1L646.4 543.8L648.3 544.4L650.1 545.1L652.0 545.8L653.9 546.5L655.8 547.2L657.6 547.9L659.5 548.6L661.4 549.3L663.3 550.0L665.1 550.7L667.0 551.5L668.9 552.2L670.8 553.0L672.6 553.7L674.5 554.5L676.3 555.3L678.2 556.0L680.0 556.8L681.9 557.6L683.7 558.4L685.6 559.3L687.4 560.1L689.2 560.9L691.0 561.8L692.8 562.6L694.6 563.5L696.4 564.4L698.2 565.3L700.0 566.2L701.7 567.1L703.5 568.0L705.3 569.0L707.0 569.9L708.8 570.9L710.5 571.9L712.2 572.9L714.0 574.0L715.7 575.0L717.4 576.0L719.1 577.1L720.8 578.1L722.5 579.2L724.2 580.3L725.9 581.4L727.6 582.4L729.3 583.5L731.0 584.6L732.7 585.7L734.4 586.8L736.1 587.9L737.8 589.0L739.5 590.0L741.2 591.1L742.8 592.2L744.5 593.3L746.2 594.4L747.9 595.5L749.6 596.6L751.2 597.7L752.9 598.8L754.6 599.9L756.2 601.1L757.9 602.2L759.5 603.4L761.1 604.5L762.8 605.7L764.4 606.8L766.0 608.0L767.7 609.2L769.3 610.4L770.9 611.6L772.5 612.8L774.1 614.0L775.7 615.2L777.3 616.4L778.9 617.6L780.5 618.8L782.1 620.1L783.7 621.3L785.3 622.6L786.8 623.8L788.4 625.1L789.9 626.4L791.4 627.7L793.0 629.0L794.5 630.3L796.0 631.6L797.5 632.9L799.0 634.2L800.5 635.6L802.0 636.9L803.4 638.3L804.9 639.6L806.4 641.0L807.8 642.4L809.3 643.8L810.7 645.2L812.2 646.6L813.6 648.0L815.0 649.4L816.5 650.9L817.9 652.3L819.3 653.7L820.7 655.2L822.0 656.6L823.4 658.1L824.8 659.6L826.1 661.0L827.4 662.5L828.8 664.0L830.1 665.5L831.4 667.0L832.7 668.5L834.0 670.0L835.3 671.6L836.6 673.1L837.8 674.7L839.1 676.2L840.4 677.8L841.6 679.4L842.9 681.0L844.1 682.5L845.3 684.1L846.6 685.7L847.8 687.3L849.0 688.9L850.2 690.5L851.5 692.1L852.7 693.7L853.9 695.3L855.1 696.9L856.3 698.5L857.5 700.1L858.7 701.7L859.9 703.3L861.1 704.9L862.3 706.5L863.5 708.1L864.7 709.8L865.9 711.4L867.0 713.0L868.2 714.6L869.4 716.3L870.5 717.9L871.7 719.5L872.9 721.2L874.0 722.8L875.2 724.5L876.3 726.1L877.4 727.8L878.6 729.4L879.7 731.1L880.9 732.7L882.0 734.4L883.1 736.0L884.3 737.7L885.4 739.3L886.5 741.0L887.6 742.7L888.7 744.3L889.9 746.0L891.0 747.7L892.1 749.3L893.2 751.0L894.3 752.7L895.4 754.4L896.5 756.1L897.6 757.7L898.7 759.4L899.7 761.1L900.8 762.8L901.9 764.5L903.0 766.2L904.0 767.9L905.1 769.6L906.1 771.3L907.2 773.0L908.2 774.7L909.3 776.4L910.3 778.1L911.4 779.8L912.4 781.6L913.4 783.3L914.5 785.0L915.5 786.7L916.5 788.5L917.5 790.2L918.6 791.9L919.6 793.7L920.6 795.4L921.6 797.1L922.6 798.9L923.6 800.6L924.5 802.4L925.5 804.1L926.5 805.9L927.5 807.6L928.4 809.4L929.4 811.1L930.4 812.9L931.3 814.6L932.3 816.4L933.2 818.2L934.2 819.9L935.1 821.7L936.0 823.5L937.0 825.3L937.9 827.0L938.8 828.8L939.8 830.6L940.7 832.4L941.6 834.2L942.5 836.0L943.4 837.8L944.3 839.6L945.2 841.3L946.1 843.1L947.0 844.9L947.9 846.7L948.7 848.5L949.6 850.3L950.5 852.2L951.3 854.0L952.2 855.8L953.1 857.6L953.9 859.4L954.8 861.2L955.6 863.0L956.4 864.9L957.3 866.7L958.1 868.5L958.9 870.4L959.7 872.2L960.5 874.0L961.3 875.9L962.1 877.7L962.9 879.5L963.7 881.4L964.5 883.2L965.3 885.1L966.1 886.9L966.9 888.7L967.7 890.6L968.4 892.4L969.2 894.3L970.0 896.2L970.7 898.0L971.5 899.9L972.3 901.7L973.0 903.6L973.8 905.4L974.5 907.3L975.3 909.2L976.0 911.0L976.7 912.9L977.5 914.8L978.2 916.6L978.9 918.5L979.6 920.4L980.4 922.2L981.1 924.1L981.8 926.0L982.5 927.9L983.2 929.8L983.9 931.6L984.6 933.5L985.2 935.4L985.9 937.3L986.6 939.2L987.3 941.1L987.9 943.0L988.6 944.8L989.3 946.7L989.9 948.6L990.6 950.5L991.3 952.4L991.9 954.3L992.6 956.2L993.2 958.1L993.9 960.0L994.5 961.9L995.2 963.8L995.8 965.7L996.4 967.6L997.1 969.5L997.7 971.4L998.3 973.3L998.9 975.2L999.5 977.1L1000.2 979.1L1000.8 981.0L1001.4 982.9L1002.0 984.8L1002.6 986.7L1003.2 988.6L1003.8 990.5L1004.4 992.4L1005.0 994.3L1005.6 996.3L1006.2 998.2L1006.8 1000.1L1007.4 1002.0L1008.0 1003.9L1008.6 1005.8L1009.2 1007.8L1009.7 1009.7L1010.3 1011.6L1010.9 1013.5L1011.5 1015.4L1012.1 1017.3L1012.7 1019.3L1013.3 1021.2L1013.8 1023.1L1014.4 1025.0L1015.0 1026.9L1015.6 1028.9L1016.2 1030.8L1016.8 1032.7L1017.3 1034.6L1017.9 1036.5L1018.5 1038.5L1019.1 1040.4L1019.6 1042.3L1020.2 1044.2L1020.8 1046.2L1021.3 1048.1L1021.9 1050.0"/>
<path stroke="#FF8000" d="M397.7 500.2L399.7 500.5L401.7 500.9L403.6 501.2L405.6 501.5L407.6 501.8L409.6 502.2L411.5 502.5L413.5 502.8L415.5 503.2L417.5 503.5L419.5 503.8L421.4 504.1L423.4 504.5L425.4 504.8L427.4 505.2L429.3 505.5L431.3 505.8L433.3 506.2L435.3 506.5L437.2 506.8L439.2 507.2L441.2 507.5L443.2 507.9L445.1 508.2L447.1 508.6L449.1 508.9L451.1 509.2L453.0 509.6L455.0 509.9L457.0 510.3L459.0 510.6L460.9 511.0L462.9 511.3L464.9 511.7L466.9 512.0L468.8 512.4L470.8 512.7L472.8 513.1L474.8 513.4L476.7 513.8L478.7 514.1L480.7 514.5L482.6 514.8L484.6 515.2L486.6 515.5L488.6 515.9L490.5 516.3L492.5 516.6L494.5 517.0L496.5 517.3L498.4 517.7L500.4 518.1L502.4 518.4L504.3 518.8L506.3 519.2L508.3 519.6L510.2 519.9L512.2 520.3L514.2 520.7L516.1 521.1L518.1 521.5L520.1 521.8L522.0 522.2L524.0 522.6L526.0 523.0L527.9 523.4L529.9 523.8L531.9 524.2L533.8 524.6L535.8 525.0L537.8 525.4L539.7 525.8L541.7 526.2L543.7 526.6L545.6 527.1L547.6 527.5L549.5 527.9L551.5 528.3L553.5 528.7L555.4 529.2L557.4 529.6L559.3 530.0L561.3 530.4L563.3 530.9L565.2 531.3L567.2 531.8L569.1 532.2L571.1 532.6L573.0 533.1L575.0 533.5L576.9 534.0L578.9 534.4L580.8 534.9L582.8 535.3L584.7 535.8L586.7 536.2L588.6 536.7L590.6 537.2L592.5 537.6L594.5 538.1L596.5 538.6L598.4 539.0L600.4 539.5L602.3 540.0L604.3 540.4L606.2 540.9L608.2 541.4L610.1 541.9L612.1 542.3L614.0 542.8L615.9 543.3L617.9 543.8L619.8 544.3L621.8 544.8L623.7 545.3L625.7 545.8L627.6 546.3L629.5 546.8L631.5 547.3L633.4 547.8L635.4 548.4L637.3 548.9L639.2 549.4L641.2 550.0L643.1 550.5L645.0 551.1L646.9 551.6L648.9 552.2L650.8 552.7L652.7 553.3L654.6 553.9L656.5 554.5L658.4 555.0L660.3 555.6L662.2 556.2L664.2 556.8L666.1 557.5L668.0 558.1L669.9 558.7L671.8 559.3L673.7 560.0L675.6 560.6L677.5 561.3L679.4 561.9L681.3 562.6L683.2 563.3L685.1 563.9L687.0 564.6L688.8 565.3L690.7 566.0L692.6 566.7L694.5 567.4L696.4 568.1L698.3 568.8L700.1 569.5L702.0 570.2L703.9 570.9L705.8 571.6L707.6 572.3L709.5 573.1L711.4 573.8L713.2 574.5L715.1 575.3L717.0 576.0L718.8 576.7L720.7 577.5L722.5 578.2L724.4 579.0L726.2 579.8L728.1 580.5L729.9 581.3L731.8 582.1L733.6 582.9L735.5 583.7L737.3 584.5L739.1 585.3L741.0 586.1L742.8 586.9L744.6 587.8L746.5 588.6L748.3 589.5L750.1 590.3L751.9 591.2L753.7 592.0L755.5 592.9L757.3 593.8L759.1 594.7L760.9 595.5L762.7 596.4L764.5 597.4L766.3 598.3L768.0 599.2L769.8 600.1L771.6 601.1L773.3 602.0L775.1 603.0L776.9 604.0L778.6 605.0L780.3 606.0L782.1 607.0L783.8 608.0L785.5 609.0L787.3 610.1L789.0 611.1L790.7 612.2L792.4 613.2L794.1 614.3L795.7 615.3L797.4 616.4L799.1 617.5L800.8 618.6L802.4 619.8L804.1 620.9L805.7 622.0L807.4 623.2L809.0 624.3L810.7 625.5L812.3 626.7L813.9 627.9L815.5 629.0L817.2 630.2L818.8 631.4L820.4 632.6L822.0 633.8L823.6 635.0L825.2 636.2L826.8 637.4L828.4 638.6L830.0 639.8L831.6 641.0L833.2 642.2L834.8 643.4L836.4 644.7L838.0 645.9L839.6 647.1L841.2 648.3L842.8 649.6L844.3 650.8L845.9 652.1L847.5 653.4L849.0 654.6L850.6 655.9L852.1 657.2L853.6 658.5L855.1 659.8L856.7 661.1L858.1 662.4L859.6 663.8L861.1 665.1L862.6 666.5L864.0 667.8L865.5 669.2L866.9 670.6L868.4 672.0L869.8 673.4L871.2 674.8L872.6 676.3L874.0 677.7L875.4 679.2L876.8 680.6L878.2 682.1L879.5 683.6L880.9 685.0L882.2 686.5L883.5 688.0L884.8 689.6L886.1 691.1L887.4 692.6L888.7 694.2L889.9 695.8L891.2 697.3L892.4 698.9L893.6 700.5L894.8 702.1L896.1 703.7L897.3 705.3L898.5 706.9L899.7 708.5L900.9 710.1L902.1 711.7L903.3 713.3L904.4 714.9L905.6 716.6L906.8 718.2L908.0 719.8L909.2 721.4L910.3 723.1L911.5 724.7L912.7 726.3L913.9 727.9L915.1 729.5L916.3 731.1L917.5 732.7L918.7 734.3L919.9 736.0L921.0 737.6L922.2 739.2L923.3 740.9L924.4 742.6L925.5 744.2L926.6 745.9L927.6 747.6L928.7 749.4L929.7 751.1L930.7 752.8L931.7 754.5L932.7 756.3L933.7 758.0L934.6 759.8L935.6 761.6L936.5 763.3L937.4 765.1L938.4 766.9L939.3 768.7L940.1 770.5L941.0 772.3L941.9 774.1L942.8 775.9L943.6 777.7L944.5 779.5L945.3 781.4L946.1 783.2L947.0 785.0L947.8 786.8L948.6 788.7L949.4 790.5L950.2 792.3L951.0 794.2L951.8 796.0L952.6 797.8L953.4 799.7L954.2 801.5L955.0 803.4L955.8 805.2L956.5 807.1L957.3 808.9L958.1 810.8L958.8 812.6L959.6 814.5L960.4 816.3L961.1 818.2L961.9 820.0L962.7 821.9L963.4 823.7L964.2 825.6L965.0 827.5L965.7 829.3L966.5 831.2L967.2 833.0L968.0 834.9L968.8 836.7L969.5 838.6L970.2 840.5L971.0 842.3L971.7 844.2L972.5 846.0L973.2 847.9L973.9 849.8L974.7 851.6L975.4 853.5L976.1 855.4L976.8 857.3L977.6 859.1L978.3 861.0L979.0 862.9L979.7 864.7L980.4 866.6L981.1 868.5L981.8 870.4L982.4 872.3L983.1 874.2L983.8 876.0L984.5 877.9L985.1 879.8L985.8 881.7L986.5 883.6L987.1 885.5L987.8 887.4L988.5 889.3L989.1 891.2L989.8 893.1L990.4 895.0L991.1 896.9L991.7 898.8L992.3 900.7L993.0 902.6L993.6 904.5L994.2 906.4L994.8 908.3L995.4 910.2L996.1 912.1L996.7 914.0L997.3 915.9L997.9 917.9L998.4 919.8L999.0 921.7L999.6 923.6L1000.2 925.5L1000.7 927.4L1001.3 929.4L1001.9 931.3L1002.4 933.2L1003.0 935.1L1003.5 937.1L1004.1 939.0L1004.6 940.9L1005.1 942.9L1005.7 944.8L1006.2 946.7L1006.7 948.7L1007.2 950.6L1007.8 952.5L1008.3 954.5L1008.8 956.4L1009.3 958.4L1009.8 960.3L1010.3 962.2L1010.8 964.2L1011.3 966.1L1011.8 968.1L1012.3 970.0L1012.8 971.9L1013.3 973.9L1013.8 975.8L1014.3 977.8L1014.7 979.7L1015.2 981.7L1015.7 983.6L1016.2 985.6L1016.6 987.5L1017.1 989.5L1017.5 991.4L1018.0 993.4L1018.4 995.3L1018.9 997.3L1019.3 999.2L1019.8 1001.2L1020.2 1003.1L1020.7 1005.1L1021.1 1007.1L1021.6 1009.0L1022.0 1011.0L1022.5 1012.9L1022.9 1014.9L1023.4 1016.8L1023.8 1018.8L1024.3 1020.7L1024.7 1022.7L1025.2 1024.6L1025.6 1026.6L1026.1 1028.5L1026.6 1030.5L1027.0 1032.4L1027.5 1034.4L1027.9 1036.3L1028.4 1038.3L1028.9 1040.2L1029.3 1042.2L1029.8 1044.1L1030.2 1046.1L1030.7 1048.0L1031.2 1050.0"/>
<path stroke="#0000FF" d="M397.7 470.5L399.7 470.7L401.7 471.0L403.7 471.2L405.7 471.4L407.7 471.6L409.7 471.9L411.6 472.1L413.6 472.3L415.6 472.6L417.6 472.8L419.6 473.0L421.6 473.3L423.6 473.5L425.6 473.8L427.6 474.0L429.6 474.3L431.6 474.5L433.5 474.7L435.5 475.0L437.5 475.2L439.5 475.5L441.5 475.7L443.5 476.0L445.5 476.2L447.5 476.5L449.5 476.8L451.4 477.0L453.4 477.3L455.4 477.5L457.4 477.8L459.4 478.1L461.4 478.3L463.4 478.6L465.4 478.9L467.3 479.1L469.3 479.4L471.3 479.7L473.3 480.0L475.3 480.2L477.3 480.5L479.3 480.8L481.2 481.1L483.2 481.4L485.2 481.6L487.2 481.9L489.2 482.2L491.2 482.5L493.2 482.8L495.1 483.1L497.1 483.4L499.1 483.7L501.1 483.9L503.1 484.2L505.1 484.5L507.0 484.8L509.0 485.1L511.0 485.4L513.0 485.7L515.0 486.0L517.0 486.3L518.9 486.6L520.9 486.9L522.9 487.1L524.9 487.4L526.9 487.7L528.9 488.0L530.9 488.3L532.8 488.6L534.8 488.9L536.8 489.1L538.8 489.4L540.8 489.7L542.8 490.0L544.8 490.3L546.8 490.5L548.7 490.8L550.7 491.1L552.7 491.4L554.7 491.7L556.7 492.0L558.7 492.2L560.7 492.5L562.6 492.8L564.6 493.1L566.6 493.4L568.6 493.7L570.6 494.0L572.5 494.4L574.5 494.7L576.5 495.0L578.5 495.3L580.5 495.6L582.4 496.0L584.4 496.3L586.4 496.6L588.4 497.0L590.3 497.4L592.3 497.7L594.3 498.1L596.2 498.4L598.2 498.8L600.2 499.2L602.1 499.6L604.1 500.0L606.1 500.4L608.0 500.8L610.0 501.2L612.0 501.6L613.9 502.0L615.9 502.4L617.9 502.8L619.8 503.2L621.8 503.7L623.8 504.1L625.7 504.5L627.7 505.0L629.6 505.4L631.6 505.9L633.5 506.3L635.5 506.8L637.4 507.2L639.4 507.7L641.3 508.2L643.3 508.6L645.2 509.1L647.2 509.6L649.1 510.1L651.1 510.5L653.0 511.0L655.0 511.5L656.9 512.0L658.8 512.5L660.8 513.0L662.7 513.5L664.7 514.0L666.6 514.6L668.5 515.1L670.5 515.6L672.4 516.2L674.3 516.7L676.3 517.3L678.2 517.8L680.1 518.4L682.0 518.9L684.0 519.5L685.9 520.1L687.8 520.7L689.7 521.2L691.7 521.8L693.6 522.4L695.5 523.0L697.4 523.6L699.3 524.2L701.2 524.8L703.1 525.4L705.1 526.1L707.0 526.7L708.9 527.3L710.8 528.0L712.7 528.6L714.6 529.2L716.5 529.9L718.3 530.5L720.2 531.2L722.1 531.9L724.0 532.5L725.9 533.2L727.8 533.9L729.6 534.6L731.5 535.3L733.4 536.0L735.3 536.8L737.1 537.5L739.0 538.3L740.9 539.0L742.7 539.8L744.6 540.5L746.4 541.3L748.3 542.1L750.1 542.8L752.0 543.6L753.8 544.4L755.7 545.2L757.5 546.0L759.4 546.8L761.2 547.6L763.0 548.4L764.9 549.2L766.7 550.0L768.6 550.8L770.4 551.6L772.2 552.4L774.1 553.2L775.9 554.0L777.7 554.8L779.5 555.7L781.4 556.5L783.2 557.4L785.0 558.2L786.8 559.1L788.6 559.9L790.5 560.8L792.3 561.6L794.1 562.5L795.9 563.4L797.7 564.3L799.5 565.2L801.2 566.1L803.0 567.0L804.8 567.9L806.6 568.8L808.4 569.8L810.2 570.7L811.9 571.6L813.7 572.5L815.5 573.5L817.3 574.4L819.1 575.4L820.8 576.4L822.6 577.3L824.4 578.3L826.1 579.3L827.8 580.4L829.5 581.4L831.2 582.5L832.9 583.5L834.6 584.6L836.2 585.7L837.8 586.9L839.5 588.0L841.1 589.2L842.7 590.4L844.3 591.7L845.8 592.9L847.4 594.2L848.9 595.5L850.5 596.8L852.0 598.2L853.5 599.5L854.9 600.9L856.4 602.3L857.8 603.7L859.2 605.1L860.6 606.5L861.9 608.0L863.2 609.5L864.5 611.0L865.8 612.5L867.1 614.1L868.4 615.6L869.6 617.2L870.9 618.8L872.1 620.4L873.3 622.0L874.5 623.6L875.7 625.2L876.9 626.9L878.1 628.5L879.3 630.1L880.5 631.7L881.7 633.4L882.8 635.0L884.0 636.6L885.2 638.2L886.3 639.9L887.5 641.5L888.6 643.2L889.8 644.8L890.9 646.5L892.1 648.1L893.2 649.8L894.3 651.5L895.4 653.1L896.5 654.8L897.6 656.5L898.6 658.2L899.7 659.9L900.8 661.6L901.8 663.3L902.8 665.0L903.9 666.8L904.9 668.5L905.9 670.2L906.9 672.0L907.8 673.7L908.8 675.4L909.8 677.2L910.7 679.0L911.7 680.7L912.6 682.5L913.6 684.3L914.5 686.1L915.4 687.8L916.3 689.6L917.3 691.4L918.2 693.2L919.1 695.0L920.0 696.8L920.9 698.6L921.8 700.4L922.7 702.1L923.6 703.9L924.6 705.7L925.5 707.5L926.4 709.3L927.3 711.1L928.2 712.9L929.1 714.7L930.0 716.5L930.9 718.2L931.8 720.0L932.7 721.8L933.6 723.6L934.4 725.4L935.3 727.2L936.2 729.0L937.1 730.8L938.0 732.6L938.8 734.4L939.7 736.3L940.6 738.1L941.4 739.9L942.3 741.7L943.2 743.5L944.0 745.3L944.9 747.1L945.7 748.9L946.6 750.8L947.4 752.6L948.3 754.4L949.1 756.2L949.9 758.0L950.8 759.9L951.6 761.7L952.4 763.5L953.3 765.3L954.1 767.2L954.9 769.0L955.7 770.8L956.5 772.7L957.4 774.5L958.2 776.3L959.0 778.2L959.8 780.0L960.6 781.8L961.4 783.7L962.2 785.5L963.0 787.4L963.8 789.2L964.6 791.0L965.3 792.9L966.1 794.7L966.9 796.6L967.7 798.4L968.5 800.3L969.2 802.1L970.0 804.0L970.7 805.8L971.5 807.7L972.3 809.6L973.0 811.4L973.7 813.3L974.5 815.1L975.2 817.0L976.0 818.9L976.7 820.7L977.4 822.6L978.1 824.5L978.9 826.3L979.6 828.2L980.3 830.1L981.0 832.0L981.7 833.8L982.4 835.7L983.1 837.6L983.8 839.5L984.5 841.4L985.2 843.2L985.9 845.1L986.6 847.0L987.2 848.9L987.9 850.8L988.6 852.7L989.3 854.6L989.9 856.5L990.6 858.4L991.2 860.3L991.9 862.1L992.5 864.0L993.2 865.9L993.8 867.8L994.5 869.7L995.1 871.7L995.7 873.6L996.3 875.5L997.0 877.4L997.6 879.3L998.2 881.2L998.8 883.1L999.4 885.0L1000.0 886.9L1000.6 888.8L1001.2 890.7L1001.8 892.7L1002.4 894.6L1003.0 896.5L1003.6 898.4L1004.2 900.3L1004.7 902.2L1005.3 904.2L1005.9 906.1L1006.5 908.0L1007.0 909.9L1007.6 911.9L1008.2 913.8L1008.7 915.7L1009.3 917.6L1009.8 919.6L1010.4 921.5L1010.9 923.4L1011.5 925.3L1012.0 927.3L1012.6 929.2L1013.1 931.1L1013.6 933.1L1014.1 935.0L1014.7 936.9L1015.2 938.9L1015.7 940.8L1016.2 942.8L1016.7 944.7L1017.2 946.6L1017.7 948.6L1018.2 950.5L1018.7 952.5L1019.3 954.4L1019.8 956.3L1020.3 958.3L1020.7 960.2L1021.2 962.2L1021.7 964.1L1022.2 966.1L1022.7 968.0L1023.2 970.0L1023.7 971.9L1024.1 973.9L1024.6 975.8L1025.1 977.8L1025.6 979.7L1026.0 981.6L1026.5 983.6L1026.9 985.6L1027.4 987.5L1027.9 989.5L1028.3 991.4L1028.8 993.4L1029.3 995.3L1029.7 997.3L1030.2 999.2L1030.6 1001.2L1031.1 1003.1L1031.5 1005.1L1032.0 1007.0L1032.5 1009.0L1032.9 1010.9L1033.4 1012.9L1033.8 1014.8L1034.3 1016.8L1034.7 1018.7L1035.2 1020.7L1035.6 1022.6L1036.1 1024.6L1036.5 1026.6L1037.0 1028.5L1037.4 1030.5L1037.9 1032.4L1038.3 1034.4L1038.8 1036.3L1039.3 1038.3L1039.7 1040.2L1040.2 1042.2L1040.6 1044.1L1041.0 1046.1L1041.5 1048.0L1041.9 1050.0"/>
<path stroke="#000000" d="M397.7 444.8L399.7 445.1L401.7 445.3L403.7 445.6L405.7 445.8L407.6 446.1L409.6 446.4L411.6 446.6L413.6 446.9L415.6 447.2L417.6 447.4L419.6 447.7L421.6 448.0L423.6 448.3L425.5 448.6L427.5 448.8L429.5 449.1L431.5 449.4L433.5 449.7L435.5 450.0L437.5 450.3L439.4 450.5L441.4 450.8L443.4 451.1L445.4 451.4L447.4 451.7L449.4 452.0L451.3 452.3L453.3 452.6L455.3 452.9L457.3 453.2L459.3 453.5L461.3 453.8L463.2 454.1L465.2 454.4L467.2 454.7L469.2 455.0L471.2 455.3L473.2 455.6L475.2 455.9L477.1 456.2L479.1 456.6L481.1 456.9L483.1 457.2L485.1 457.5L487.1 457.8L489.0 458.1L491.0 458.5L493.0 458.8L495.0 459.1L497.0 459.4L498.9 459.8L500.9 460.1L502.9 460.5L504.9 460.8L506.8 461.2L508.8 461.5L510.8 461.9L512.8 462.2L514.7 462.6L516.7 463.0L518.7 463.4L520.6 463.7L522.6 464.1L524.6 464.5L526.5 464.9L528.5 465.3L530.4 465.8L532.4 466.2L534.4 466.6L536.3 467.0L538.3 467.5L540.2 467.9L542.2 468.4L544.2 468.8L546.1 469.3L548.1 469.8L550.0 470.2L552.0 470.7L553.9 471.2L555.9 471.7L557.8 472.2L559.8 472.7L561.7 473.2L563.7 473.7L565.6 474.2L567.5 474.7L569.5 475.2L571.4 475.8L573.4 476.3L575.3 476.8L577.2 477.4L579.2 477.9L581.1 478.5L583.0 479.0L584.9 479.6L586.9 480.1L588.8 480.7L590.7 481.3L592.6 481.8L594.5 482.4L596.4 483.0L598.4 483.6L600.3 484.3L602.2 484.9L604.1 485.5L606.0 486.1L607.9 486.8L609.8 487.5L611.7 488.1L613.6 488.8L615.5 489.5L617.4 490.2L619.3 490.9L621.1 491.6L623.0 492.3L624.9 493.0L626.7 493.8L628.6 494.5L630.5 495.2L632.3 496.0L634.1 496.8L636.0 497.6L637.8 498.4L639.6 499.2L641.5 500.0L643.3 500.9L645.1 501.7L646.9 502.6L648.7 503.5L650.5 504.3L652.3 505.2L654.1 506.1L655.9 507.1L657.7 508.0L659.5 508.9L661.3 509.9L663.1 510.8L664.8 511.8L666.6 512.7L668.4 513.7L670.1 514.7L671.9 515.6L673.6 516.6L675.3 517.6L677.1 518.6L678.8 519.6L680.5 520.6L682.3 521.6L684.0 522.7L685.7 523.7L687.4 524.7L689.1 525.8L690.8 526.9L692.5 528.0L694.2 529.0L695.9 530.1L697.6 531.2L699.2 532.3L700.9 533.4L702.6 534.6L704.3 535.7L705.9 536.8L707.6 538.0L709.2 539.1L710.9 540.2L712.5 541.4L714.2 542.5L715.8 543.7L717.5 544.8L719.1 546.0L720.7 547.1L722.4 548.3L724.0 549.5L725.6 550.6L727.3 551.8L728.9 553.0L730.5 554.2L732.1 555.4L733.7 556.6L735.3 557.8L736.9 559.0L738.5 560.2L740.1 561.5L741.7 562.7L743.3 564.0L744.9 565.2L746.4 566.5L748.0 567.7L749.5 569.0L751.0 570.3L752.6 571.6L754.1 572.9L755.6 574.2L757.1 575.5L758.6 576.8L760.1 578.1L761.6 579.5L763.1 580.8L764.6 582.2L766.1 583.5L767.6 584.9L769.1 586.2L770.6 587.6L772.0 589.0L773.5 590.4L775.0 591.8L776.4 593.2L777.8 594.6L779.3 596.0L780.7 597.4L782.1 598.8L783.5 600.3L784.9 601.7L786.3 603.1L787.7 604.6L789.1 606.0L790.4 607.5L791.8 609.0L793.1 610.4L794.5 611.9L795.8 613.4L797.1 614.9L798.4 616.4L799.7 617.9L801.0 619.5L802.3 621.0L803.6 622.6L804.9 624.1L806.2 625.7L807.4 627.2L808.7 628.8L809.9 630.4L811.2 632.0L812.4 633.6L813.7 635.2L814.9 636.8L816.1 638.4L817.3 640.0L818.5 641.6L819.7 643.2L820.8 644.9L822.0 646.5L823.2 648.1L824.3 649.8L825.4 651.4L826.6 653.1L827.7 654.7L828.8 656.4L829.9 658.1L831.0 659.7L832.0 661.4L833.1 663.1L834.1 664.8L835.2 666.6L836.2 668.3L837.3 670.0L838.3 671.7L839.3 673.5L840.3 675.2L841.3 677.0L842.3 678.7L843.3 680.4L844.3 682.2L845.3 683.9L846.3 685.7L847.3 687.4L848.3 689.2L849.3 690.9L850.3 692.6L851.2 694.4L852.2 696.2L853.2 697.9L854.1 699.7L855.1 701.4L856.1 703.2L857.0 705.0L858.0 706.7L858.9 708.5L859.9 710.3L860.8 712.0L861.7 713.8L862.7 715.6L863.6 717.4L864.5 719.1L865.5 720.9L866.4 722.7L867.3 724.5L868.2 726.3L869.2 728.1L870.1 729.8L871.0 731.6L871.9 733.4L872.9 735.2L873.8 737.0L874.7 738.7L875.6 740.5L876.5 742.3L877.4 744.1L878.3 745.9L879.2 747.7L880.1 749.5L881.0 751.3L881.9 753.1L882.8 754.9L883.7 756.7L884.6 758.5L885.5 760.3L886.4 762.1L887.3 763.9L888.1 765.7L889.0 767.5L889.9 769.3L890.8 771.1L891.6 772.9L892.5 774.7L893.3 776.5L894.2 778.3L895.0 780.2L895.9 782.0L896.7 783.8L897.6 785.6L898.4 787.4L899.2 789.3L900.1 791.1L900.9 792.9L901.7 794.8L902.5 796.6L903.4 798.4L904.2 800.3L905.0 802.1L905.8 803.9L906.6 805.8L907.4 807.6L908.2 809.4L909.0 811.3L909.8 813.1L910.6 815.0L911.4 816.8L912.2 818.7L912.9 820.5L913.7 822.4L914.5 824.2L915.2 826.1L916.0 827.9L916.8 829.8L917.5 831.6L918.3 833.5L919.0 835.4L919.8 837.2L920.5 839.1L921.3 840.9L922.0 842.8L922.7 844.7L923.5 846.5L924.2 848.4L924.9 850.3L925.6 852.2L926.4 854.0L927.1 855.9L927.8 857.8L928.5 859.7L929.2 861.5L929.9 863.4L930.6 865.3L931.3 867.2L932.0 869.1L932.7 871.0L933.3 872.8L934.0 874.7L934.7 876.6L935.4 878.5L936.0 880.4L936.7 882.3L937.4 884.2L938.0 886.1L938.7 888.0L939.3 889.9L940.0 891.8L940.6 893.7L941.3 895.6L941.9 897.5L942.6 899.4L943.2 901.3L943.8 903.2L944.5 905.1L945.1 907.0L945.7 908.9L946.3 910.8L946.9 912.7L947.6 914.6L948.2 916.5L948.8 918.5L949.4 920.4L950.0 922.3L950.6 924.2L951.2 926.1L951.8 928.0L952.4 929.9L953.0 931.9L953.5 933.8L954.1 935.7L954.7 937.6L955.3 939.5L955.8 941.5L956.4 943.4L957.0 945.3L957.5 947.2L958.1 949.2L958.7 951.1L959.2 953.0L959.8 955.0L960.3 956.9L960.9 958.8L961.4 960.7L962.0 962.7L962.5 964.6L963.1 966.5L963.6 968.5L964.1 970.4L964.7 972.3L965.2 974.3L965.8 976.2L966.3 978.1L966.8 980.1L967.3 982.0L967.9 983.9L968.4 985.9L968.9 987.8L969.4 989.8L969.9 991.7L970.4 993.6L970.9 995.6L971.5 997.5L972.0 999.5L972.5 1001.4L973.0 1003.3L973.5 1005.3L974.0 1007.2L974.5 1009.2L975.0 1011.1L975.5 1013.1L976.0 1015.0L976.5 1016.9L977.0 1018.9L977.5 1020.8L978.0 1022.8L978.5 1024.7L979.0 1026.7L979.5 1028.6L980.0 1030.5L980.5 1032.5L981.0 1034.4L981.5 1036.4L981.9 1038.3L982.4 1040.3L982.9 1042.2L983.4 1044.2L983.9 1046.1L984.4 1048.1L984.9 1050.0"/>
</g>
<text font-size="29.5" text-anchor="end" transform="translate(378.3 407.1) scale(1.0 1.04)">100</text>
<text font-size="29.5" text-anchor="end" transform="translate(378.3 617.1) scale(1.0 1.04)">98</text>
<text font-size="29.5" text-anchor="end" transform="translate(378.3 827.1) scale(1.0 1.04)">96</text>
<text font-size="29.5" text-anchor="end" transform="translate(378.3 1037.1) scale(1.0 1.04)">94</text>
<text font-size="29.5" text-anchor="middle" transform="translate(409.7 1069.8) scale(1.0 1.04)">410</text>
<text font-size="29.5" text-anchor="middle" transform="translate(525.5 1069.8) scale(1.0 1.04)">420</text>
<text font-size="29.5" text-anchor="middle" transform="translate(641.3 1069.8) scale(1.0 1.04)">430</text>
<text font-size="29.5" text-anchor="middle" transform="translate(757.1 1069.8) scale(1.0 1.04)">440</text>
<text font-size="29.5" text-anchor="middle" transform="translate(872.9 1069.8) scale(1.0 1.04)">450</text>
<text font-size="29.5" text-anchor="middle" transform="translate(988.7 1069.8) scale(1.0 1.04)">460</text>
<text font-size="29.5" text-anchor="middle" transform="translate(1104.5 1069.8) scale(1.0 1.04)">470</text>
<rect x="1076" y="83" width="195.3" height="166.6" fill="none" stroke="#ED7D31" stroke-width="5.3"/>
<line x1="1103.3" y1="262.5" x2="1007" y2="356" stroke="#ED7D31" stroke-width="5.5" stroke-linecap="round"/>
<polygon points="983.1,380.1 1003.3,346.3 1016.3,359.3" fill="#ED7D31"/>
</svg></body></html>
